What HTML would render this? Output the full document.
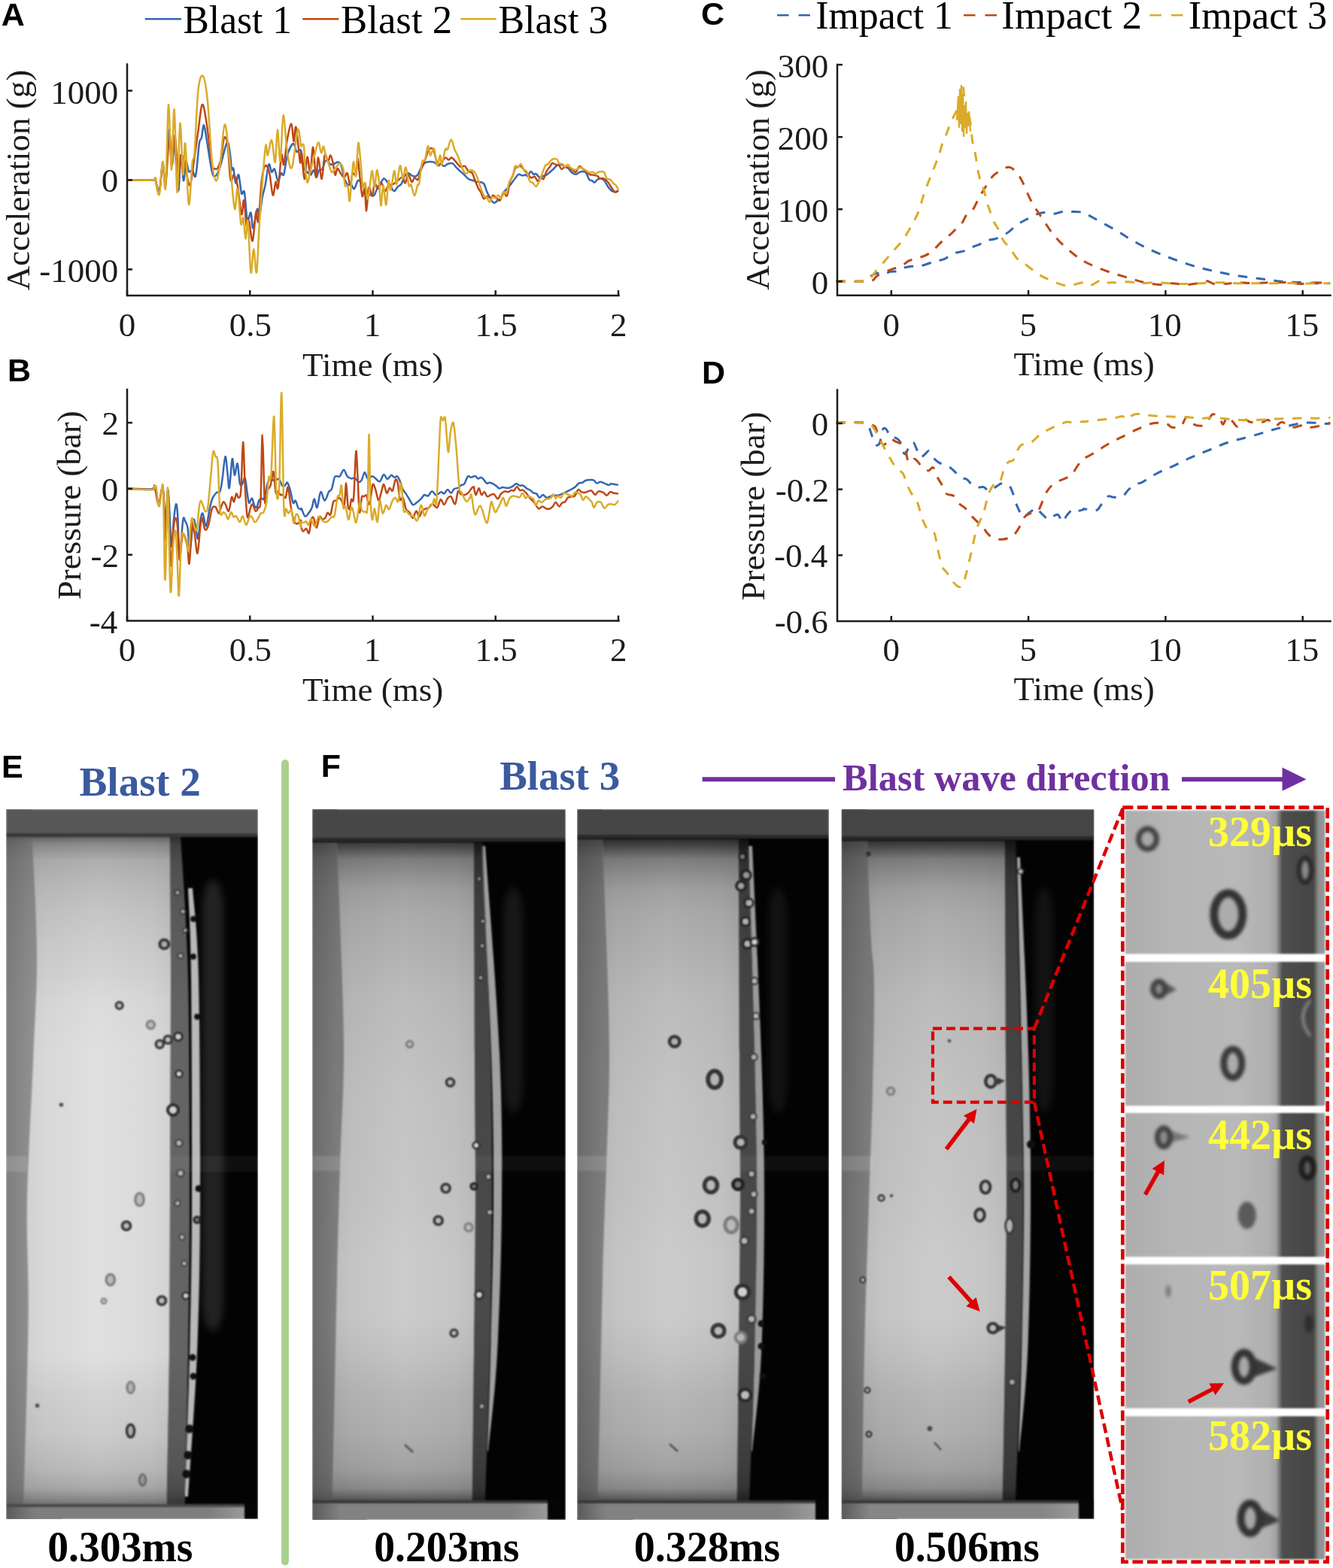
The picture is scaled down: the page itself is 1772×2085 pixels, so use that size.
<!DOCTYPE html><html><head><meta charset="utf-8"><title>Figure</title><style>html,body{margin:0;padding:0;background:#fff;width:1772px;height:2085px;overflow:hidden}svg{display:block}</style></head><body><svg width="1772" height="2085" viewBox="0 0 1772 2085"><rect width="1772" height="2085" fill="#fff"/><defs><filter color-interpolation-filters="sRGB" id="blur3" x="-5%" y="-5%" width="110%" height="110%"><feGaussianBlur stdDeviation="2.2"/></filter><linearGradient id="inbg" gradientUnits="userSpaceOnUse" x1="1495" y1="0" x2="1762" y2="0"><stop offset="0" stop-color="#adadad"/><stop offset="0.25" stop-color="#b6b6b6"/><stop offset="0.55" stop-color="#b9b9b9"/><stop offset="0.72" stop-color="#b0b0b0"/><stop offset="0.755" stop-color="#a2a2a2"/><stop offset="0.785" stop-color="#4e4e4e"/><stop offset="0.94" stop-color="#454545"/><stop offset="0.965" stop-color="#8e8e8e"/><stop offset="1" stop-color="#9a9a9a"/></linearGradient></defs><defs><filter color-interpolation-filters="sRGB" id="blur1" x="-2%" y="-2%" width="104%" height="104%"><feGaussianBlur stdDeviation="1.3"/></filter><filter color-interpolation-filters="sRGB" id="blur4" x="-50%" y="-10%" width="200%" height="120%"><feGaussianBlur stdDeviation="5"/></filter><clipPath id="clipE"><rect x="8" y="1076" width="335" height="944"/></clipPath><linearGradient gradientUnits="userSpaceOnUse" id="lgE" x1="31" y1="0" x2="227" y2="0"><stop offset="0" stop-color="#d0d0d0"/><stop offset="0.15" stop-color="#d8d8d8"/><stop offset="0.5" stop-color="#e0e0e0"/><stop offset="0.85" stop-color="#dadada"/><stop offset="1" stop-color="#d2d2d2"/></linearGradient><linearGradient gradientUnits="userSpaceOnUse" id="lsE" x1="8" y1="0" x2="43" y2="0"><stop offset="0" stop-color="#7e7e7e"/><stop offset="1" stop-color="#909090"/></linearGradient><linearGradient id="shE" gradientUnits="userSpaceOnUse" x1="0" y1="1076" x2="0" y2="2020"><stop offset="0.0000" stop-color="#000" stop-opacity="0.55"/><stop offset="0.0392" stop-color="#000" stop-opacity="0.55"/><stop offset="0.0487" stop-color="#000" stop-opacity="0.38"/><stop offset="0.0720" stop-color="#000" stop-opacity="0.22"/><stop offset="0.1081" stop-color="#000" stop-opacity="0.16"/><stop offset="0.1430" stop-color="#000" stop-opacity="0.12"/><stop offset="0.1896" stop-color="#000" stop-opacity="0.08"/><stop offset="0.2362" stop-color="#000" stop-opacity="0.05"/><stop offset="0.2691" stop-color="#000" stop-opacity="0.02"/><stop offset="0.3432" stop-color="#000" stop-opacity="0"/><stop offset="0.7669" stop-color="#000" stop-opacity="0"/><stop offset="0.8242" stop-color="#000" stop-opacity="0.055"/><stop offset="0.8814" stop-color="#000" stop-opacity="0.09"/><stop offset="0.9280" stop-color="#000" stop-opacity="0.155"/><stop offset="0.9566" stop-color="#000" stop-opacity="0.24"/><stop offset="0.9714" stop-color="#000" stop-opacity="0.38"/><stop offset="0.9809" stop-color="#000" stop-opacity="0.5"/><stop offset="1.0000" stop-color="#000" stop-opacity="0.5"/></linearGradient><filter color-interpolation-filters="sRGB" id="cfE" filterUnits="userSpaceOnUse" x="229" y="1110" width="108" height="720"><feGaussianBlur stdDeviation="5"/></filter><linearGradient id="bbE" gradientUnits="userSpaceOnUse" x1="8" y1="0" x2="325" y2="0"><stop offset="0" stop-color="#5a5a5a"/><stop offset="0.12" stop-color="#7e7e7e"/><stop offset="0.85" stop-color="#7e7e7e"/><stop offset="1" stop-color="#9a9a9a"/></linearGradient><clipPath id="clipF1"><rect x="415" y="1076" width="337" height="945"/></clipPath><linearGradient gradientUnits="userSpaceOnUse" id="lgF1" x1="441" y1="0" x2="632" y2="0"><stop offset="0" stop-color="#bcbcbc"/><stop offset="0.15" stop-color="#c4c4c4"/><stop offset="0.5" stop-color="#cccccc"/><stop offset="0.85" stop-color="#c6c6c6"/><stop offset="1" stop-color="#bebebe"/></linearGradient><linearGradient gradientUnits="userSpaceOnUse" id="lsF1" x1="415" y1="0" x2="448" y2="0"><stop offset="0" stop-color="#6c6c6c"/><stop offset="1" stop-color="#7e7e7e"/></linearGradient><linearGradient id="shF1" gradientUnits="userSpaceOnUse" x1="0" y1="1076" x2="0" y2="2021"><stop offset="0.0000" stop-color="#000" stop-opacity="0.75"/><stop offset="0.0444" stop-color="#000" stop-opacity="0.75"/><stop offset="0.0529" stop-color="#000" stop-opacity="0.63"/><stop offset="0.0698" stop-color="#000" stop-opacity="0.39"/><stop offset="0.0921" stop-color="#000" stop-opacity="0.29"/><stop offset="0.1143" stop-color="#000" stop-opacity="0.21"/><stop offset="0.1481" stop-color="#000" stop-opacity="0.16"/><stop offset="0.2042" stop-color="#000" stop-opacity="0.12"/><stop offset="0.2603" stop-color="#000" stop-opacity="0.08"/><stop offset="0.3958" stop-color="#000" stop-opacity="0.04"/><stop offset="0.5545" stop-color="#000" stop-opacity="0.02"/><stop offset="0.6339" stop-color="#000" stop-opacity="0"/><stop offset="0.7132" stop-color="#000" stop-opacity="0"/><stop offset="0.7661" stop-color="#000" stop-opacity="0.04"/><stop offset="0.8233" stop-color="#000" stop-opacity="0.1"/><stop offset="0.8804" stop-color="#000" stop-opacity="0.14"/><stop offset="0.9270" stop-color="#000" stop-opacity="0.2"/><stop offset="0.9556" stop-color="#000" stop-opacity="0.31"/><stop offset="0.9672" stop-color="#000" stop-opacity="0.49"/><stop offset="0.9735" stop-color="#000" stop-opacity="0.6"/><stop offset="1.0000" stop-color="#000" stop-opacity="0.6"/></linearGradient><filter color-interpolation-filters="sRGB" id="cfF1" filterUnits="userSpaceOnUse" x="629" y="1120" width="106" height="420"><feGaussianBlur stdDeviation="5"/></filter><linearGradient id="bbF1" gradientUnits="userSpaceOnUse" x1="415" y1="0" x2="728" y2="0"><stop offset="0" stop-color="#5a5a5a"/><stop offset="0.12" stop-color="#828282"/><stop offset="0.85" stop-color="#828282"/><stop offset="1" stop-color="#9a9a9a"/></linearGradient><clipPath id="clipF2"><rect x="767" y="1076" width="335" height="945"/></clipPath><linearGradient gradientUnits="userSpaceOnUse" id="lgF2" x1="794" y1="0" x2="984" y2="0"><stop offset="0" stop-color="#bcbcbc"/><stop offset="0.15" stop-color="#c4c4c4"/><stop offset="0.5" stop-color="#cccccc"/><stop offset="0.85" stop-color="#c6c6c6"/><stop offset="1" stop-color="#bebebe"/></linearGradient><linearGradient gradientUnits="userSpaceOnUse" id="lsF2" x1="767" y1="0" x2="801" y2="0"><stop offset="0" stop-color="#6c6c6c"/><stop offset="1" stop-color="#7e7e7e"/></linearGradient><linearGradient id="shF2" gradientUnits="userSpaceOnUse" x1="0" y1="1076" x2="0" y2="2021"><stop offset="0.0000" stop-color="#000" stop-opacity="0.75"/><stop offset="0.0444" stop-color="#000" stop-opacity="0.75"/><stop offset="0.0529" stop-color="#000" stop-opacity="0.63"/><stop offset="0.0698" stop-color="#000" stop-opacity="0.39"/><stop offset="0.0921" stop-color="#000" stop-opacity="0.29"/><stop offset="0.1143" stop-color="#000" stop-opacity="0.21"/><stop offset="0.1481" stop-color="#000" stop-opacity="0.16"/><stop offset="0.2042" stop-color="#000" stop-opacity="0.12"/><stop offset="0.2603" stop-color="#000" stop-opacity="0.08"/><stop offset="0.3958" stop-color="#000" stop-opacity="0.04"/><stop offset="0.5545" stop-color="#000" stop-opacity="0.02"/><stop offset="0.6339" stop-color="#000" stop-opacity="0"/><stop offset="0.7132" stop-color="#000" stop-opacity="0"/><stop offset="0.7661" stop-color="#000" stop-opacity="0.04"/><stop offset="0.8233" stop-color="#000" stop-opacity="0.1"/><stop offset="0.8804" stop-color="#000" stop-opacity="0.14"/><stop offset="0.9270" stop-color="#000" stop-opacity="0.2"/><stop offset="0.9556" stop-color="#000" stop-opacity="0.31"/><stop offset="0.9672" stop-color="#000" stop-opacity="0.49"/><stop offset="0.9735" stop-color="#000" stop-opacity="0.6"/><stop offset="1.0000" stop-color="#000" stop-opacity="0.6"/></linearGradient><filter color-interpolation-filters="sRGB" id="cfF2" filterUnits="userSpaceOnUse" x="982" y="1120" width="104" height="420"><feGaussianBlur stdDeviation="5"/></filter><linearGradient id="bbF2" gradientUnits="userSpaceOnUse" x1="767" y1="0" x2="1084" y2="0"><stop offset="0" stop-color="#5a5a5a"/><stop offset="0.12" stop-color="#828282"/><stop offset="0.85" stop-color="#828282"/><stop offset="1" stop-color="#9a9a9a"/></linearGradient><clipPath id="clipF3"><rect x="1118.5" y="1076" width="336" height="944"/></clipPath><linearGradient gradientUnits="userSpaceOnUse" id="lgF3" x1="1146" y1="0" x2="1338" y2="0"><stop offset="0" stop-color="#bcbcbc"/><stop offset="0.15" stop-color="#c4c4c4"/><stop offset="0.5" stop-color="#cccccc"/><stop offset="0.85" stop-color="#c6c6c6"/><stop offset="1" stop-color="#bebebe"/></linearGradient><linearGradient gradientUnits="userSpaceOnUse" id="lsF3" x1="1118.5" y1="0" x2="1153" y2="0"><stop offset="0" stop-color="#6c6c6c"/><stop offset="1" stop-color="#7e7e7e"/></linearGradient><linearGradient id="shF3" gradientUnits="userSpaceOnUse" x1="0" y1="1076" x2="0" y2="2020"><stop offset="0.0000" stop-color="#000" stop-opacity="0.75"/><stop offset="0.0445" stop-color="#000" stop-opacity="0.75"/><stop offset="0.0530" stop-color="#000" stop-opacity="0.63"/><stop offset="0.0699" stop-color="#000" stop-opacity="0.39"/><stop offset="0.0922" stop-color="#000" stop-opacity="0.29"/><stop offset="0.1144" stop-color="#000" stop-opacity="0.21"/><stop offset="0.1483" stop-color="#000" stop-opacity="0.16"/><stop offset="0.2044" stop-color="#000" stop-opacity="0.12"/><stop offset="0.2606" stop-color="#000" stop-opacity="0.08"/><stop offset="0.3962" stop-color="#000" stop-opacity="0.04"/><stop offset="0.5551" stop-color="#000" stop-opacity="0.02"/><stop offset="0.6345" stop-color="#000" stop-opacity="0"/><stop offset="0.7140" stop-color="#000" stop-opacity="0"/><stop offset="0.7669" stop-color="#000" stop-opacity="0.04"/><stop offset="0.8242" stop-color="#000" stop-opacity="0.1"/><stop offset="0.8814" stop-color="#000" stop-opacity="0.14"/><stop offset="0.9280" stop-color="#000" stop-opacity="0.2"/><stop offset="0.9566" stop-color="#000" stop-opacity="0.31"/><stop offset="0.9682" stop-color="#000" stop-opacity="0.49"/><stop offset="0.9746" stop-color="#000" stop-opacity="0.6"/><stop offset="1.0011" stop-color="#000" stop-opacity="0.6"/></linearGradient><filter color-interpolation-filters="sRGB" id="cfF3" filterUnits="userSpaceOnUse" x="1336" y="1120" width="104" height="420"><feGaussianBlur stdDeviation="5"/></filter><linearGradient id="bbF3" gradientUnits="userSpaceOnUse" x1="1118.5" y1="0" x2="1434" y2="0"><stop offset="0" stop-color="#5a5a5a"/><stop offset="0.12" stop-color="#868686"/><stop offset="0.85" stop-color="#868686"/><stop offset="1" stop-color="#9a9a9a"/></linearGradient></defs><g clip-path="url(#clipE)"><g filter="url(#blur1)"><rect x="8" y="1076" width="335" height="944" fill="#030303"/><rect x="8" y="1113" width="75" height="944" fill="url(#lsE)"/><rect x="269" y="1170" width="28" height="600" rx="14" ry="40" fill="#262626" opacity="0.9" filter="url(#cfE)"/><path d="M226.0,1113.0 C226.2,1144.2 227.0,1218.8 227.0,1300.0 C227.0,1381.2 226.3,1516.7 226.0,1600.0 C225.7,1683.3 225.7,1734.7 225.0,1800.0 C224.3,1865.3 222.5,1958.3 222.0,1992.0 C221.5,2025.7 222.0,2000.3 222.0,2002.0 L246.0,2002.0 C246.0,2000.3 245.3,2025.7 246.0,1992.0 C246.7,1958.3 249.0,1865.3 250.0,1800.0 C251.0,1734.7 252.0,1683.3 252.0,1600.0 C252.0,1516.7 252.0,1381.2 250.0,1300.0 C248.0,1218.8 241.7,1144.2 240.0,1113.0 Z" fill="#646464"/><path d="M250.0,1181.0 C250.7,1200.8 253.2,1230.2 254.0,1300.0 C254.8,1369.8 255.3,1516.7 255.0,1600.0 C254.7,1683.3 253.5,1735.0 252.0,1800.0 C250.5,1865.0 247.0,1958.3 246.0,1990.0 L250.0,1990.0 C252.0,1958.3 259.3,1865.0 262.0,1800.0 C264.7,1735.0 265.7,1683.3 266.0,1600.0 C266.3,1516.7 265.7,1369.8 264.0,1300.0 C262.3,1230.2 257.3,1200.8 256.0,1181.0 Z" fill="#b8b8b8"/><path d="M43.0,1113.0 C44.0,1138.8 48.7,1220.2 49.0,1268.0 C49.3,1315.8 46.8,1345.0 44.6,1400.0 C42.4,1455.0 37.1,1539.7 36.0,1598.0 C34.9,1656.3 38.4,1684.3 37.7,1750.0 C37.0,1815.7 32.8,1950.0 31.7,1992.0 C30.6,2034.0 31.1,2000.3 31.0,2002.0 L222.0,2002.0 C222.0,2000.3 221.5,2025.7 222.0,1992.0 C222.5,1958.3 224.3,1865.3 225.0,1800.0 C225.7,1734.7 225.7,1683.3 226.0,1600.0 C226.3,1516.7 227.0,1381.2 227.0,1300.0 C227.0,1218.8 226.2,1144.2 226.0,1113.0 Z" fill="url(#lgE)"/><rect x="8" y="1537" width="28" height="21" fill="#fff" opacity="0.13"/><rect x="226" y="1537" width="117" height="21" fill="#fff" opacity="0.052000000000000005"/><ellipse cx="218.3" cy="1255.5" rx="5.9" ry="5.9" fill="#bcbcbc" stroke="#363636" stroke-width="3.9"/><ellipse cx="158.7" cy="1337" rx="4.6" ry="4.6" fill="#bcbcbc" stroke="#363636" stroke-width="3.0"/><ellipse cx="200.4" cy="1362.7" rx="5.2" ry="5.2" fill="#bcbcbc" stroke="#7e7e7e" stroke-width="3.0"/><ellipse cx="212.3" cy="1388.5" rx="5.1" ry="5.1" fill="#bcbcbc" stroke="#363636" stroke-width="3.3"/><ellipse cx="223.2" cy="1382.5" rx="5.1" ry="5.1" fill="#bcbcbc" stroke="#363636" stroke-width="3.3"/><ellipse cx="237" cy="1378.5" rx="5.2" ry="5.2" fill="#d0d0d0" stroke="#2e2e2e" stroke-width="3.0"/><ellipse cx="236" cy="1187" rx="3.6" ry="3.6" fill="#b4b4b4" stroke="#3a3a3a" stroke-width="1.8"/><ellipse cx="243" cy="1212" rx="3.6" ry="3.6" fill="#b4b4b4" stroke="#3a3a3a" stroke-width="1.8"/><ellipse cx="246" cy="1237" rx="3.1" ry="3.1" fill="#b4b4b4" stroke="#3a3a3a" stroke-width="1.6"/><ellipse cx="240" cy="1271" rx="3.6" ry="3.6" fill="#b4b4b4" stroke="#3a3a3a" stroke-width="1.8"/><ellipse cx="257" cy="1222" rx="3.0" ry="3.0" fill="#101010" stroke="#101010" stroke-width="1.8"/><ellipse cx="257" cy="1272" rx="3.0" ry="3.0" fill="#101010" stroke="#101010" stroke-width="1.8"/><ellipse cx="262" cy="1352" rx="3.0" ry="3.0" fill="#101010" stroke="#101010" stroke-width="1.8"/><ellipse cx="230" cy="1476" rx="7.0" ry="7.0" fill="#d0d0d0" stroke="#2e2e2e" stroke-width="4.0"/><ellipse cx="238" cy="1428" rx="4.4" ry="4.4" fill="#d0d0d0" stroke="#2e2e2e" stroke-width="2.5"/><ellipse cx="185.5" cy="1595" rx="5.7" ry="8.5" fill="#bcbcbc" stroke="#7e7e7e" stroke-width="3.2"/><ellipse cx="168" cy="1630" rx="5.5" ry="5.5" fill="#bcbcbc" stroke="#363636" stroke-width="3.6"/><ellipse cx="146.8" cy="1701.6" rx="5.7" ry="7.3" fill="#bcbcbc" stroke="#7e7e7e" stroke-width="3.2"/><ellipse cx="138" cy="1730" rx="3.5" ry="3.5" fill="#bcbcbc" stroke="#7e7e7e" stroke-width="2.0"/><ellipse cx="215" cy="1729.5" rx="5.5" ry="5.5" fill="#bcbcbc" stroke="#363636" stroke-width="3.6"/><ellipse cx="264" cy="1580.5" rx="3.5" ry="3.5" fill="#101010" stroke="#101010" stroke-width="2.0"/><ellipse cx="262" cy="1622" rx="4.1" ry="4.1" fill="#7a7a7a" stroke="#222222" stroke-width="3.0"/><ellipse cx="247" cy="1723" rx="4.4" ry="4.4" fill="#d0d0d0" stroke="#2e2e2e" stroke-width="2.5"/><ellipse cx="173.6" cy="1845" rx="4.8" ry="7.6" fill="#bcbcbc" stroke="#7e7e7e" stroke-width="2.8"/><ellipse cx="173.6" cy="1902.6" rx="5.1" ry="8.4" fill="#bcbcbc" stroke="#363636" stroke-width="3.3"/><ellipse cx="189.5" cy="1968" rx="4.4" ry="7.7" fill="#bcbcbc" stroke="#7e7e7e" stroke-width="2.5"/><ellipse cx="81.5" cy="1469" rx="2.1" ry="2.1" fill="#505050" stroke="#505050" stroke-width="1.4"/><ellipse cx="49.6" cy="1869" rx="2.1" ry="2.1" fill="#505050" stroke="#505050" stroke-width="1.4"/><ellipse cx="238" cy="1520" rx="4.5" ry="4.5" fill="#b4b4b4" stroke="#3a3a3a" stroke-width="2.2"/><ellipse cx="240" cy="1560" rx="4.5" ry="4.5" fill="#b4b4b4" stroke="#3a3a3a" stroke-width="2.2"/><ellipse cx="236" cy="1600" rx="3.6" ry="3.6" fill="#b4b4b4" stroke="#3a3a3a" stroke-width="1.8"/><ellipse cx="242" cy="1645" rx="3.6" ry="3.6" fill="#b4b4b4" stroke="#3a3a3a" stroke-width="1.8"/><ellipse cx="245" cy="1680" rx="3.6" ry="3.6" fill="#b4b4b4" stroke="#3a3a3a" stroke-width="1.8"/><ellipse cx="256" cy="1805" rx="3.5" ry="3.5" fill="#101010" stroke="#101010" stroke-width="2.0"/><ellipse cx="257" cy="1830" rx="3.5" ry="3.5" fill="#101010" stroke="#101010" stroke-width="2.0"/><ellipse cx="252" cy="1900" rx="4.4" ry="4.4" fill="#101010" stroke="#101010" stroke-width="2.5"/><ellipse cx="250" cy="1935" rx="4.4" ry="4.4" fill="#101010" stroke="#101010" stroke-width="2.5"/><ellipse cx="248" cy="1960" rx="4.4" ry="4.4" fill="#101010" stroke="#101010" stroke-width="2.5"/><path d="M43.0,1113.0 C44.0,1138.8 48.7,1220.2 49.0,1268.0 C49.3,1315.8 46.8,1345.0 44.6,1400.0 C42.4,1455.0 37.1,1539.7 36.0,1598.0 C34.9,1656.3 38.4,1684.3 37.7,1750.0 C37.0,1815.7 32.8,1950.0 31.7,1992.0 C30.6,2034.0 31.1,2000.3 31.0,2002.0 L246.0,2002.0 C246.0,2000.3 245.3,2025.7 246.0,1992.0 C246.7,1958.3 249.0,1865.3 250.0,1800.0 C251.0,1734.7 252.0,1683.3 252.0,1600.0 C252.0,1516.7 252.0,1381.2 250.0,1300.0 C248.0,1218.8 241.7,1144.2 240.0,1113.0 Z" fill="url(#shE)"/><path d="M8.0,1053.0 C8.0,1063.0 8.0,1077.2 8.0,1113.0 C8.0,1148.8 8.0,1220.2 8.0,1268.0 C8.0,1315.8 8.0,1345.0 8.0,1400.0 C8.0,1455.0 8.0,1539.7 8.0,1598.0 C8.0,1656.3 8.0,1684.3 8.0,1750.0 C8.0,1815.7 8.0,1950.0 8.0,1992.0 C8.0,2034.0 8.0,1997.3 8.0,2002.0 C8.0,2006.7 8.0,2017.0 8.0,2020.0 L31.0,2020.0 C31.0,2017.0 30.9,2006.7 31.0,2002.0 C31.1,1997.3 30.6,2034.0 31.7,1992.0 C32.8,1950.0 37.0,1815.7 37.7,1750.0 C38.4,1684.3 34.9,1656.3 36.0,1598.0 C37.1,1539.7 42.4,1455.0 44.6,1400.0 C46.8,1345.0 49.3,1315.8 49.0,1268.0 C48.7,1220.2 44.0,1148.8 43.0,1113.0 C42.0,1077.2 43.0,1063.0 43.0,1053.0 Z" fill="url(#shE)" opacity="0.55"/><rect x="8" y="1076" width="335" height="33" fill="#585858"/><rect x="8" y="1108" width="335" height="5" fill="#383838"/><rect x="8" y="2002" width="335" height="18" fill="url(#bbE)"/><rect x="8" y="2000" width="335" height="4" fill="#484848"/><rect x="325" y="2000" width="18" height="20" fill="#050505"/></g></g><g clip-path="url(#clipF1)"><g filter="url(#blur1)"><rect x="415" y="1076" width="337" height="945" fill="#030303"/><rect x="415" y="1120" width="73" height="945" fill="url(#lsF1)"/><rect x="669" y="1180" width="26" height="300" rx="13" ry="40" fill="#1c1c1c" opacity="0.8" filter="url(#cfF1)"/><path d="M630.0,1120.0 C630.2,1166.7 630.7,1320.0 631.0,1400.0 C631.3,1480.0 632.2,1533.3 632.0,1600.0 C631.8,1666.7 630.7,1733.7 630.0,1800.0 C629.3,1866.3 628.3,1965.0 628.0,1998.0 L645.0,1998.0 C646.0,1965.0 649.5,1866.3 651.0,1800.0 C652.5,1733.7 653.8,1666.7 654.0,1600.0 C654.2,1533.3 654.0,1480.0 652.0,1400.0 C650.0,1320.0 643.7,1166.7 642.0,1120.0 Z" fill="#4a4a4a"/><path d="M640.0,1125.0 C642.2,1170.8 650.3,1320.8 653.0,1400.0 C655.7,1479.2 656.2,1533.3 656.0,1600.0 C655.8,1666.7 653.3,1745.0 652.0,1800.0 C650.7,1855.0 648.7,1908.3 648.0,1930.0 L649.0,1930.0 C651.0,1908.3 658.0,1855.0 661.0,1800.0 C664.0,1745.0 666.5,1666.7 667.0,1600.0 C667.5,1533.3 667.7,1479.2 664.0,1400.0 C660.3,1320.8 648.2,1170.8 645.0,1125.0 Z" fill="#a0a0a0"/><path d="M448.0,1120.0 C448.8,1141.7 451.5,1202.5 453.0,1250.0 C454.5,1297.5 457.2,1355.0 457.0,1405.0 C456.8,1455.0 453.5,1500.5 452.0,1550.0 C450.5,1599.5 449.7,1629.0 448.0,1702.0 C446.3,1775.0 443.2,1938.7 442.0,1988.0 C440.8,2037.3 441.2,1996.3 441.0,1998.0 L628.0,1998.0 C628.3,1965.0 629.3,1866.3 630.0,1800.0 C630.7,1733.7 631.8,1666.7 632.0,1600.0 C632.2,1533.3 631.3,1480.0 631.0,1400.0 C630.7,1320.0 630.2,1166.7 630.0,1120.0 Z" fill="url(#lgF1)"/><rect x="415" y="1537" width="37" height="20" fill="#fff" opacity="0.12"/><rect x="632" y="1537" width="120" height="20" fill="#fff" opacity="0.048"/><path d="M538,1921 L549,1931" stroke="#606060" stroke-width="2.5"/><ellipse cx="544.7" cy="1388.4" rx="4.4" ry="4.4" fill="#bcbcbc" stroke="#7e7e7e" stroke-width="2.5"/><ellipse cx="598.5" cy="1439.3" rx="5.1" ry="5.1" fill="#bcbcbc" stroke="#363636" stroke-width="3.3"/><ellipse cx="633" cy="1523" rx="4.4" ry="4.4" fill="#d0d0d0" stroke="#2e2e2e" stroke-width="2.5"/><ellipse cx="592.6" cy="1580" rx="5.5" ry="5.5" fill="#bcbcbc" stroke="#363636" stroke-width="3.6"/><ellipse cx="630" cy="1577.5" rx="4.1" ry="4.1" fill="#7a7a7a" stroke="#222222" stroke-width="3.0"/><ellipse cx="582.7" cy="1623" rx="5.5" ry="5.5" fill="#bcbcbc" stroke="#363636" stroke-width="3.6"/><ellipse cx="623" cy="1632" rx="5.2" ry="5.2" fill="#bcbcbc" stroke="#7e7e7e" stroke-width="3.0"/><ellipse cx="637" cy="1721.7" rx="5.2" ry="5.2" fill="#d0d0d0" stroke="#2e2e2e" stroke-width="3.0"/><ellipse cx="603.5" cy="1772.6" rx="4.6" ry="4.6" fill="#bcbcbc" stroke="#363636" stroke-width="3.0"/><ellipse cx="649.4" cy="1564.7" rx="3.6" ry="3.6" fill="#b4b4b4" stroke="#3a3a3a" stroke-width="1.8"/><ellipse cx="651" cy="1612" rx="3.6" ry="3.6" fill="#b4b4b4" stroke="#3a3a3a" stroke-width="1.8"/><ellipse cx="640.5" cy="1870" rx="3.6" ry="3.6" fill="#b4b4b4" stroke="#3a3a3a" stroke-width="1.8"/><ellipse cx="637" cy="1168.6" rx="3.1" ry="3.1" fill="#b4b4b4" stroke="#3a3a3a" stroke-width="1.6"/><ellipse cx="642" cy="1225" rx="3.1" ry="3.1" fill="#b4b4b4" stroke="#3a3a3a" stroke-width="1.6"/><ellipse cx="641" cy="1257.5" rx="3.1" ry="3.1" fill="#b4b4b4" stroke="#3a3a3a" stroke-width="1.6"/><ellipse cx="639" cy="1300" rx="3.1" ry="3.1" fill="#b4b4b4" stroke="#3a3a3a" stroke-width="1.6"/><path d="M448.0,1120.0 C448.8,1141.7 451.5,1202.5 453.0,1250.0 C454.5,1297.5 457.2,1355.0 457.0,1405.0 C456.8,1455.0 453.5,1500.5 452.0,1550.0 C450.5,1599.5 449.7,1629.0 448.0,1702.0 C446.3,1775.0 443.2,1938.7 442.0,1988.0 C440.8,2037.3 441.2,1996.3 441.0,1998.0 L645.0,1998.0 C646.0,1965.0 649.5,1866.3 651.0,1800.0 C652.5,1733.7 653.8,1666.7 654.0,1600.0 C654.2,1533.3 654.0,1480.0 652.0,1400.0 C650.0,1320.0 643.7,1166.7 642.0,1120.0 Z" fill="url(#shF1)"/><path d="M415.0,1060.0 C415.0,1070.0 415.0,1088.3 415.0,1120.0 C415.0,1151.7 415.0,1202.5 415.0,1250.0 C415.0,1297.5 415.0,1355.0 415.0,1405.0 C415.0,1455.0 415.0,1500.5 415.0,1550.0 C415.0,1599.5 415.0,1629.0 415.0,1702.0 C415.0,1775.0 415.0,1938.7 415.0,1988.0 C415.0,2037.3 415.0,1992.5 415.0,1998.0 C415.0,2003.5 415.0,2017.2 415.0,2021.0 L441.0,2021.0 C441.0,2017.2 440.8,2003.5 441.0,1998.0 C441.2,1992.5 440.8,2037.3 442.0,1988.0 C443.2,1938.7 446.3,1775.0 448.0,1702.0 C449.7,1629.0 450.5,1599.5 452.0,1550.0 C453.5,1500.5 456.8,1455.0 457.0,1405.0 C457.2,1355.0 454.5,1297.5 453.0,1250.0 C451.5,1202.5 448.8,1151.7 448.0,1120.0 C447.2,1088.3 448.0,1070.0 448.0,1060.0 Z" fill="url(#shF1)" opacity="0.55"/><rect x="415" y="1076" width="337" height="39" fill="#474747"/><rect x="415" y="1114" width="337" height="5" fill="#2a2a2a"/><rect x="415" y="1997" width="337" height="24" fill="url(#bbF1)"/><rect x="415" y="1995" width="337" height="4" fill="#383838"/><rect x="728" y="1995" width="24" height="26" fill="#050505"/></g></g><g clip-path="url(#clipF2)"><g filter="url(#blur1)"><rect x="767" y="1076" width="335" height="945" fill="#030303"/><rect x="767" y="1116" width="74" height="945" fill="url(#lsF2)"/><rect x="1022" y="1180" width="24" height="300" rx="12" ry="40" fill="#1a1a1a" opacity="0.7" filter="url(#cfF2)"/><path d="M982.0,1116.0 C982.2,1163.3 982.7,1319.3 983.0,1400.0 C983.3,1480.7 984.2,1533.3 984.0,1600.0 C983.8,1666.7 982.7,1733.7 982.0,1800.0 C981.3,1866.3 980.3,1965.0 980.0,1998.0 L996.0,1998.0 C997.2,1965.0 1001.3,1866.3 1003.0,1800.0 C1004.7,1733.7 1006.0,1666.7 1006.0,1600.0 C1006.0,1533.3 1004.8,1480.7 1003.0,1400.0 C1001.2,1319.3 996.3,1163.3 995.0,1116.0 Z" fill="#4a4a4a"/><path d="M995.0,1125.0 C996.3,1170.8 1001.2,1320.8 1003.0,1400.0 C1004.8,1479.2 1006.0,1533.3 1006.0,1600.0 C1006.0,1666.7 1004.2,1745.0 1003.0,1800.0 C1001.8,1855.0 999.7,1908.3 999.0,1930.0 L1000.0,1930.0 C1002.0,1908.3 1009.3,1855.0 1012.0,1800.0 C1014.7,1745.0 1016.0,1666.7 1016.0,1600.0 C1016.0,1533.3 1014.7,1479.2 1012.0,1400.0 C1009.3,1320.8 1002.0,1170.8 1000.0,1125.0 Z" fill="#9a9a9a"/><path d="M801.0,1116.0 C801.8,1138.3 804.5,1201.8 806.0,1250.0 C807.5,1298.2 810.0,1355.0 810.0,1405.0 C810.0,1455.0 807.5,1500.5 806.0,1550.0 C804.5,1599.5 802.8,1629.0 801.0,1702.0 C799.2,1775.0 796.2,1938.7 795.0,1988.0 C793.8,2037.3 794.2,1996.3 794.0,1998.0 L980.0,1998.0 C980.3,1965.0 981.3,1866.3 982.0,1800.0 C982.7,1733.7 983.8,1666.7 984.0,1600.0 C984.2,1533.3 983.3,1480.7 983.0,1400.0 C982.7,1319.3 982.2,1163.3 982.0,1116.0 Z" fill="url(#lgF2)"/><rect x="767" y="1537" width="39" height="20" fill="#fff" opacity="0.12"/><rect x="984" y="1537" width="118" height="20" fill="#fff" opacity="0.048"/><path d="M890,1920 L901,1930" stroke="#606060" stroke-width="2.5"/><ellipse cx="896.7" cy="1385" rx="6.8" ry="6.8" fill="#bcbcbc" stroke="#363636" stroke-width="4.4"/><ellipse cx="950" cy="1435.3" rx="8.9" ry="11.1" fill="#bcbcbc" stroke="#363636" stroke-width="5.8"/><ellipse cx="984.6" cy="1519" rx="7.6" ry="7.6" fill="#bcbcbc" stroke="#363636" stroke-width="5.0"/><ellipse cx="945" cy="1576" rx="8.5" ry="9.6" fill="#bcbcbc" stroke="#363636" stroke-width="5.5"/><ellipse cx="981" cy="1575" rx="6.6" ry="6.6" fill="#7a7a7a" stroke="#222222" stroke-width="4.8"/><ellipse cx="933.7" cy="1620.5" rx="8.5" ry="9.6" fill="#bcbcbc" stroke="#363636" stroke-width="5.5"/><ellipse cx="972" cy="1629" rx="8.3" ry="9.9" fill="#bcbcbc" stroke="#7e7e7e" stroke-width="4.8"/><ellipse cx="987" cy="1718" rx="8.7" ry="8.7" fill="#d0d0d0" stroke="#2e2e2e" stroke-width="5.0"/><ellipse cx="955" cy="1769.6" rx="8.0" ry="8.0" fill="#bcbcbc" stroke="#363636" stroke-width="5.2"/><ellipse cx="984.6" cy="1778.5" rx="7.0" ry="7.0" fill="#bcbcbc" stroke="#7e7e7e" stroke-width="4.0"/><ellipse cx="990.5" cy="1855" rx="7.8" ry="7.8" fill="#d0d0d0" stroke="#2e2e2e" stroke-width="4.5"/><ellipse cx="987" cy="1139" rx="4.4" ry="4.4" fill="#d0d0d0" stroke="#2e2e2e" stroke-width="2.5"/><ellipse cx="992" cy="1163.7" rx="6.1" ry="6.1" fill="#d0d0d0" stroke="#2e2e2e" stroke-width="3.5"/><ellipse cx="985" cy="1178" rx="6.1" ry="6.1" fill="#d0d0d0" stroke="#2e2e2e" stroke-width="3.5"/><ellipse cx="995.4" cy="1200.7" rx="5.7" ry="5.7" fill="#d0d0d0" stroke="#2e2e2e" stroke-width="3.2"/><ellipse cx="991" cy="1225.4" rx="5.7" ry="5.7" fill="#d0d0d0" stroke="#2e2e2e" stroke-width="3.2"/><ellipse cx="993.5" cy="1255" rx="6.1" ry="6.1" fill="#d0d0d0" stroke="#2e2e2e" stroke-width="3.5"/><ellipse cx="1003" cy="1252.6" rx="5.2" ry="5.2" fill="#d0d0d0" stroke="#2e2e2e" stroke-width="3.0"/><ellipse cx="1003" cy="1304.4" rx="4.5" ry="4.5" fill="#b4b4b4" stroke="#3a3a3a" stroke-width="2.2"/><ellipse cx="1005" cy="1351" rx="4.5" ry="4.5" fill="#b4b4b4" stroke="#3a3a3a" stroke-width="2.2"/><ellipse cx="1002" cy="1405.7" rx="4.5" ry="4.5" fill="#b4b4b4" stroke="#3a3a3a" stroke-width="2.2"/><ellipse cx="1001" cy="1484.7" rx="4.5" ry="4.5" fill="#b4b4b4" stroke="#3a3a3a" stroke-width="2.2"/><ellipse cx="999" cy="1561" rx="4.5" ry="4.5" fill="#b4b4b4" stroke="#3a3a3a" stroke-width="2.2"/><ellipse cx="1002" cy="1588" rx="4.5" ry="4.5" fill="#b4b4b4" stroke="#3a3a3a" stroke-width="2.2"/><ellipse cx="999" cy="1610.6" rx="4.5" ry="4.5" fill="#b4b4b4" stroke="#3a3a3a" stroke-width="2.2"/><ellipse cx="989.5" cy="1650" rx="5.4" ry="5.4" fill="#b4b4b4" stroke="#3a3a3a" stroke-width="2.7"/><ellipse cx="999" cy="1754" rx="5.4" ry="5.4" fill="#b4b4b4" stroke="#3a3a3a" stroke-width="2.7"/><ellipse cx="1016.7" cy="1519" rx="3.0" ry="3.0" fill="#101010" stroke="#101010" stroke-width="1.8"/><ellipse cx="1012" cy="1760" rx="3.5" ry="3.5" fill="#101010" stroke="#101010" stroke-width="2.0"/><ellipse cx="1012" cy="1790" rx="3.5" ry="3.5" fill="#101010" stroke="#101010" stroke-width="2.0"/><ellipse cx="1014" cy="1830" rx="3.5" ry="3.5" fill="#101010" stroke="#101010" stroke-width="2.0"/><path d="M801.0,1116.0 C801.8,1138.3 804.5,1201.8 806.0,1250.0 C807.5,1298.2 810.0,1355.0 810.0,1405.0 C810.0,1455.0 807.5,1500.5 806.0,1550.0 C804.5,1599.5 802.8,1629.0 801.0,1702.0 C799.2,1775.0 796.2,1938.7 795.0,1988.0 C793.8,2037.3 794.2,1996.3 794.0,1998.0 L996.0,1998.0 C997.2,1965.0 1001.3,1866.3 1003.0,1800.0 C1004.7,1733.7 1006.0,1666.7 1006.0,1600.0 C1006.0,1533.3 1004.8,1480.7 1003.0,1400.0 C1001.2,1319.3 996.3,1163.3 995.0,1116.0 Z" fill="url(#shF2)"/><path d="M767.0,1056.0 C767.0,1066.0 767.0,1083.7 767.0,1116.0 C767.0,1148.3 767.0,1201.8 767.0,1250.0 C767.0,1298.2 767.0,1355.0 767.0,1405.0 C767.0,1455.0 767.0,1500.5 767.0,1550.0 C767.0,1599.5 767.0,1629.0 767.0,1702.0 C767.0,1775.0 767.0,1938.7 767.0,1988.0 C767.0,2037.3 767.0,1992.5 767.0,1998.0 C767.0,2003.5 767.0,2017.2 767.0,2021.0 L794.0,2021.0 C794.0,2017.2 793.8,2003.5 794.0,1998.0 C794.2,1992.5 793.8,2037.3 795.0,1988.0 C796.2,1938.7 799.2,1775.0 801.0,1702.0 C802.8,1629.0 804.5,1599.5 806.0,1550.0 C807.5,1500.5 810.0,1455.0 810.0,1405.0 C810.0,1355.0 807.5,1298.2 806.0,1250.0 C804.5,1201.8 801.8,1148.3 801.0,1116.0 C800.2,1083.7 801.0,1066.0 801.0,1056.0 Z" fill="url(#shF2)" opacity="0.55"/><rect x="767" y="1076" width="335" height="35" fill="#464646"/><rect x="767" y="1110" width="335" height="5" fill="#2a2a2a"/><rect x="767" y="1997" width="335" height="24" fill="url(#bbF2)"/><rect x="767" y="1995" width="335" height="4" fill="#383838"/><rect x="1084" y="1995" width="18" height="26" fill="#050505"/></g></g><g clip-path="url(#clipF3)"><g filter="url(#blur1)"><rect x="1118.5" y="1076" width="336" height="944" fill="#030303"/><rect x="1118.5" y="1118" width="74.5" height="944" fill="url(#lsF3)"/><rect x="1376" y="1180" width="24" height="300" rx="12" ry="40" fill="#1a1a1a" opacity="0.7" filter="url(#cfF3)"/><path d="M1336.0,1118.0 C1336.2,1165.0 1336.7,1319.7 1337.0,1400.0 C1337.3,1480.3 1338.2,1533.3 1338.0,1600.0 C1337.8,1666.7 1336.8,1734.2 1336.0,1800.0 C1335.2,1865.8 1333.5,1962.5 1333.0,1995.0 L1350.0,1995.0 C1351.2,1962.5 1355.3,1865.8 1357.0,1800.0 C1358.7,1734.2 1360.0,1666.7 1360.0,1600.0 C1360.0,1533.3 1358.7,1480.3 1357.0,1400.0 C1355.3,1319.7 1351.2,1165.0 1350.0,1118.0 Z" fill="#484848"/><path d="M1352.0,1140.0 C1353.0,1183.3 1356.5,1323.3 1358.0,1400.0 C1359.5,1476.7 1361.0,1533.3 1361.0,1600.0 C1361.0,1666.7 1359.2,1745.0 1358.0,1800.0 C1356.8,1855.0 1354.7,1908.3 1354.0,1930.0 L1355.0,1930.0 C1356.8,1908.3 1363.5,1855.0 1366.0,1800.0 C1368.5,1745.0 1369.8,1666.7 1370.0,1600.0 C1370.2,1533.3 1369.3,1476.7 1367.0,1400.0 C1364.7,1323.3 1357.8,1183.3 1356.0,1140.0 Z" fill="#a4a4a4"/><path d="M1153.0,1118.0 C1153.8,1140.0 1156.5,1218.3 1158.0,1250.0 C1159.5,1281.7 1161.7,1274.7 1162.0,1308.0 C1162.3,1341.3 1161.2,1401.3 1160.0,1450.0 C1158.8,1498.7 1156.8,1541.7 1155.0,1600.0 C1153.2,1658.3 1150.5,1734.2 1149.0,1800.0 C1147.5,1865.8 1146.5,1962.5 1146.0,1995.0 L1333.0,1995.0 C1333.5,1962.5 1335.2,1865.8 1336.0,1800.0 C1336.8,1734.2 1337.8,1666.7 1338.0,1600.0 C1338.2,1533.3 1337.3,1480.3 1337.0,1400.0 C1336.7,1319.7 1336.2,1165.0 1336.0,1118.0 Z" fill="url(#lgF3)"/><rect x="1118.5" y="1537" width="41.5" height="20" fill="#fff" opacity="0.12"/><rect x="1338" y="1537" width="116.5" height="20" fill="#fff" opacity="0.048"/><path d="M1326,1433 L1336,1437 L1326,1443 Z" fill="#3c3c3c"/><path d="M1327,1762 L1338,1765 L1327,1771 Z" fill="#3c3c3c"/><path d="M1242,1918 L1251,1928" stroke="#606060" stroke-width="2.5"/><ellipse cx="1154" cy="1135.5" rx="2.6" ry="2.6" fill="#505050" stroke="#505050" stroke-width="1.5"/><ellipse cx="1184" cy="1451" rx="4.8" ry="4.8" fill="#bcbcbc" stroke="#7e7e7e" stroke-width="2.8"/><ellipse cx="1317" cy="1437.8" rx="6.8" ry="7.9" fill="#bcbcbc" stroke="#363636" stroke-width="4.4"/><ellipse cx="1171.6" cy="1593" rx="3.8" ry="3.8" fill="#bcbcbc" stroke="#363636" stroke-width="2.5"/><ellipse cx="1310" cy="1578.5" rx="6.3" ry="8.0" fill="#bcbcbc" stroke="#363636" stroke-width="4.1"/><ellipse cx="1302.5" cy="1615.6" rx="6.3" ry="8.0" fill="#bcbcbc" stroke="#363636" stroke-width="4.1"/><ellipse cx="1350" cy="1576" rx="5.7" ry="8.0" fill="#7a7a7a" stroke="#222222" stroke-width="4.2"/><ellipse cx="1342" cy="1630" rx="5.4" ry="9.9" fill="#b4b4b4" stroke="#3a3a3a" stroke-width="2.7"/><ellipse cx="1147" cy="1702" rx="3.4" ry="3.4" fill="#bcbcbc" stroke="#363636" stroke-width="2.2"/><ellipse cx="1319.8" cy="1766" rx="6.3" ry="6.3" fill="#bcbcbc" stroke="#363636" stroke-width="4.1"/><ellipse cx="1153" cy="1848.6" rx="3.4" ry="3.4" fill="#bcbcbc" stroke="#363636" stroke-width="2.2"/><ellipse cx="1155" cy="1907" rx="3.4" ry="3.4" fill="#bcbcbc" stroke="#363636" stroke-width="2.2"/><ellipse cx="1236" cy="1899.5" rx="2.6" ry="2.6" fill="#505050" stroke="#505050" stroke-width="1.5"/><ellipse cx="1370.6" cy="1521.7" rx="4.4" ry="4.4" fill="#101010" stroke="#101010" stroke-width="2.5"/><ellipse cx="1345.4" cy="1837.8" rx="4.5" ry="4.5" fill="#b4b4b4" stroke="#3a3a3a" stroke-width="2.2"/><ellipse cx="1356.8" cy="1158.8" rx="3.6" ry="3.6" fill="#b4b4b4" stroke="#3a3a3a" stroke-width="1.8"/><ellipse cx="1262" cy="1384" rx="1.5" ry="1.5" fill="#505050" stroke="#505050" stroke-width="1.4"/><ellipse cx="1185" cy="1590" rx="1.5" ry="1.5" fill="#505050" stroke="#505050" stroke-width="1.4"/><path d="M1153.0,1118.0 C1153.8,1140.0 1156.5,1218.3 1158.0,1250.0 C1159.5,1281.7 1161.7,1274.7 1162.0,1308.0 C1162.3,1341.3 1161.2,1401.3 1160.0,1450.0 C1158.8,1498.7 1156.8,1541.7 1155.0,1600.0 C1153.2,1658.3 1150.5,1734.2 1149.0,1800.0 C1147.5,1865.8 1146.5,1962.5 1146.0,1995.0 L1350.0,1995.0 C1351.2,1962.5 1355.3,1865.8 1357.0,1800.0 C1358.7,1734.2 1360.0,1666.7 1360.0,1600.0 C1360.0,1533.3 1358.7,1480.3 1357.0,1400.0 C1355.3,1319.7 1351.2,1165.0 1350.0,1118.0 Z" fill="url(#shF3)"/><path d="M1118.5,1058.0 C1118.5,1068.0 1118.5,1086.0 1118.5,1118.0 C1118.5,1150.0 1118.5,1218.3 1118.5,1250.0 C1118.5,1281.7 1118.5,1274.7 1118.5,1308.0 C1118.5,1341.3 1118.5,1401.3 1118.5,1450.0 C1118.5,1498.7 1118.5,1541.7 1118.5,1600.0 C1118.5,1658.3 1118.5,1734.2 1118.5,1800.0 C1118.5,1865.8 1118.5,1958.3 1118.5,1995.0 C1118.5,2031.7 1118.5,2015.8 1118.5,2020.0 L1146.0,2020.0 C1146.0,2015.8 1145.5,2031.7 1146.0,1995.0 C1146.5,1958.3 1147.5,1865.8 1149.0,1800.0 C1150.5,1734.2 1153.2,1658.3 1155.0,1600.0 C1156.8,1541.7 1158.8,1498.7 1160.0,1450.0 C1161.2,1401.3 1162.3,1341.3 1162.0,1308.0 C1161.7,1274.7 1159.5,1281.7 1158.0,1250.0 C1156.5,1218.3 1153.8,1150.0 1153.0,1118.0 C1152.2,1086.0 1153.0,1068.0 1153.0,1058.0 Z" fill="url(#shF3)" opacity="0.55"/><rect x="1118.5" y="1076" width="336" height="37" fill="#454545"/><rect x="1118.5" y="1112" width="336" height="5" fill="#282828"/><rect x="1118.5" y="1997" width="336" height="23" fill="url(#bbF3)"/><rect x="1118.5" y="1995" width="336" height="4" fill="#383838"/><rect x="1434" y="1995" width="20.5" height="25" fill="#050505"/></g></g><path d="M168.48,239.54 C174.39,239.54 197.64,239.79 203.93,239.54 C210.22,239.28 204.96,235.56 206.24,238.00 C207.53,240.44 209.97,257.39 211.64,254.18 C213.31,250.97 214.85,220.53 216.26,218.73 C217.68,216.93 218.70,251.10 220.12,243.39 C221.53,235.68 223.33,176.60 224.74,172.49 C226.15,168.38 227.44,215.65 228.59,218.73 C229.75,221.81 230.26,185.20 231.68,190.98 C233.09,196.76 235.66,250.84 237.07,253.41 C238.48,255.98 239.00,208.58 240.15,206.40 C241.31,204.21 242.85,239.02 244.01,240.31 C245.16,241.59 245.93,216.16 247.09,214.10 C248.25,212.05 249.53,225.92 250.94,227.98 C252.36,230.03 254.03,225.54 255.57,226.44 C257.11,227.33 258.65,239.28 260.19,233.37 C261.73,227.46 263.53,199.33 264.82,190.98 C266.10,182.63 266.87,187.39 267.90,183.28 C268.93,179.17 269.83,165.81 270.98,166.32 C272.14,166.83 273.04,176.08 274.84,186.36 C276.63,196.63 279.85,220.01 281.77,227.98 C283.70,235.94 284.60,235.17 286.40,234.14 C288.20,233.11 289.99,229.26 292.56,221.81 C295.13,214.36 299.63,192.52 301.81,189.44 C303.99,186.36 304.64,197.41 305.66,203.31 C306.69,209.22 307.21,221.43 307.98,224.89 C308.75,228.36 309.39,221.04 310.29,224.12 C311.19,227.21 312.22,241.98 313.37,243.39 C314.53,244.80 315.94,230.29 317.23,232.60 C318.51,234.91 319.79,253.41 321.08,257.26 C322.36,261.12 323.65,249.81 324.93,255.72 C326.22,261.63 327.37,288.22 328.79,292.72 C330.20,297.21 332.13,280.90 333.41,282.70 C334.69,284.50 335.08,304.28 336.49,303.51 C337.91,302.74 340.48,280.90 341.89,278.07 C343.30,275.25 343.82,289.25 344.97,286.55 C346.13,283.85 347.54,268.70 348.82,261.89 C350.11,255.08 351.27,252.90 352.68,245.70 C354.09,238.51 355.89,221.55 357.30,218.73 C358.72,215.90 359.87,227.72 361.16,228.75 C362.44,229.78 363.60,222.84 365.01,224.89 C366.42,226.95 368.22,240.18 369.63,241.08 C371.05,241.98 372.20,231.83 373.49,230.29 C374.77,228.75 375.93,235.81 377.34,231.83 C378.75,227.85 379.91,213.20 381.97,206.40 C384.02,199.59 387.62,191.75 389.67,190.98 C391.73,190.21 392.58,200.23 394.30,201.77 C396.02,203.31 398.40,196.63 400.00,200.23 C401.60,203.83 402.46,218.60 403.87,223.35 C405.29,228.11 406.96,227.21 408.50,228.75 C410.04,230.29 411.71,232.99 413.12,232.60 C414.53,232.22 415.69,225.92 416.97,226.44 C418.26,226.95 419.67,235.68 420.83,235.68 C421.98,235.68 422.63,228.23 423.91,226.44 C425.20,224.64 427.25,226.69 428.54,224.89 C429.82,223.10 430.59,217.57 431.62,215.65 C432.65,213.72 433.42,212.82 434.70,213.33 C435.99,213.85 437.53,218.09 439.33,218.73 C441.12,219.37 443.95,217.70 445.49,217.19 C447.03,216.67 447.29,215.39 448.57,215.65 C449.86,215.90 451.66,215.13 453.20,218.73 C454.74,222.32 456.28,232.73 457.82,237.23 C459.36,241.72 460.91,244.29 462.45,245.70 C463.99,247.12 465.66,244.80 467.07,245.70 C468.48,246.60 469.51,252.00 470.92,251.10 C472.34,250.20 474.14,241.85 475.55,240.31 C476.96,238.77 477.99,240.82 479.40,241.85 C480.82,242.88 482.49,244.03 484.03,246.47 C485.57,248.91 486.85,254.18 488.65,256.49 C490.45,258.81 493.28,259.96 494.82,260.35 C496.36,260.73 496.62,260.86 497.90,258.81 C499.18,256.75 500.98,250.84 502.52,248.02 C504.07,245.19 505.86,243.65 507.15,241.85 C508.43,240.05 508.95,237.23 510.23,237.23 C511.52,237.23 513.31,240.05 514.86,241.85 C516.40,243.65 517.94,245.96 519.48,248.02 C521.02,250.07 522.56,254.18 524.10,254.18 C525.65,254.18 527.19,249.56 528.73,248.02 C530.27,246.47 531.81,247.24 533.35,244.93 C534.89,242.62 536.44,236.58 537.98,234.14 C539.52,231.70 540.80,230.29 542.60,230.29 C544.40,230.29 546.97,233.50 548.77,234.14 C550.57,234.78 552.11,234.78 553.39,234.14 C554.68,233.50 555.19,232.60 556.47,230.29 C557.76,227.98 559.30,222.71 561.10,220.27 C562.90,217.83 564.69,216.42 567.26,215.65 C569.83,214.87 573.94,214.87 576.51,215.65 C579.08,216.42 581.14,219.88 582.68,220.27 C584.22,220.66 584.48,217.83 585.76,217.96 C587.05,218.09 588.84,221.04 590.39,221.04 C591.93,221.04 593.21,218.60 595.01,217.96 C596.81,217.32 599.38,216.54 601.18,217.19 C602.97,217.83 604.26,220.27 605.80,221.81 C607.34,223.35 608.63,224.77 610.42,226.44 C612.22,228.11 614.53,229.90 616.59,231.83 C618.64,233.76 620.52,236.58 622.76,238.00 C624.99,239.41 628.40,239.67 630.00,240.31 C631.60,240.95 631.17,241.59 632.33,241.85 C633.49,242.11 635.16,241.46 636.96,241.85 C638.75,242.24 641.45,242.11 643.12,244.16 C644.79,246.22 645.69,251.23 646.97,254.18 C648.26,257.14 649.29,259.32 650.83,261.89 C652.37,264.46 654.43,268.82 656.22,269.60 C658.02,270.37 659.95,267.67 661.62,266.51 C663.29,265.36 664.70,264.71 666.24,262.66 C667.78,260.60 669.33,256.36 670.87,254.18 C672.41,252.00 673.95,251.36 675.49,249.56 C677.03,247.76 678.57,245.45 680.12,243.39 C681.66,241.34 683.20,239.15 684.74,237.23 C686.28,235.30 687.82,232.47 689.36,231.83 C690.91,231.19 692.45,233.24 693.99,233.37 C695.53,233.50 697.33,232.47 698.61,232.60 C699.90,232.73 700.54,234.91 701.70,234.14 C702.85,233.37 704.26,228.36 705.55,227.98 C706.83,227.59 708.25,231.32 709.40,231.83 C710.56,232.34 711.20,230.42 712.49,231.06 C713.77,231.70 715.57,235.17 717.11,235.68 C718.65,236.20 720.19,234.66 721.73,234.14 C723.28,233.63 724.82,233.50 726.36,232.60 C727.90,231.70 729.44,230.03 730.98,228.75 C732.52,227.46 734.07,226.31 735.61,224.89 C737.15,223.48 738.43,221.30 740.23,220.27 C742.03,219.24 744.60,218.47 746.40,218.73 C748.20,218.99 749.48,220.91 751.02,221.81 C752.56,222.71 754.10,222.84 755.65,224.12 C757.19,225.41 758.60,228.23 760.27,229.52 C761.94,230.80 764.12,231.83 765.66,231.83 C767.21,231.83 768.11,230.16 769.52,229.52 C770.93,228.88 772.60,227.98 774.14,227.98 C775.68,227.98 777.23,227.72 778.77,229.52 C780.31,231.32 781.98,236.97 783.39,238.77 C784.80,240.57 786.09,239.67 787.24,240.31 C788.40,240.95 789.17,242.88 790.33,242.62 C791.48,242.36 792.77,239.67 794.18,238.77 C795.59,237.87 797.26,236.97 798.81,237.23 C800.35,237.48 801.89,238.51 803.43,240.31 C804.97,242.11 806.51,245.83 808.05,248.02 C809.60,250.20 811.14,252.25 812.68,253.41 C814.22,254.57 815.71,254.95 817.30,254.95 C818.90,254.95 821.41,253.67 822.24,253.41" fill="none" stroke="#3466b2" stroke-width="2.5" stroke-linejoin="round"/><path d="M168.48,239.54 C174.39,239.54 197.64,239.87 203.93,239.54 C210.22,239.20 204.96,234.58 206.24,237.53 C207.53,240.49 209.97,260.66 211.64,257.26 C213.31,253.87 214.85,218.99 216.26,217.19 C217.68,215.39 218.70,251.87 220.12,246.47 C221.53,241.08 223.33,189.18 224.74,184.82 C226.15,180.45 227.31,221.04 228.59,220.27 C229.88,219.50 231.03,177.88 232.45,180.19 C233.86,182.50 235.66,229.78 237.07,234.14 C238.48,238.51 239.51,208.97 240.92,206.40 C242.34,203.83 243.62,212.05 245.55,218.73 C247.48,225.41 250.30,248.27 252.49,246.47 C254.67,244.68 256.85,219.76 258.65,207.94 C260.45,196.12 261.61,187.00 263.28,175.57 C264.95,164.14 266.87,141.91 268.67,139.34 C270.47,136.78 271.88,146.92 274.07,160.15 C276.25,173.38 279.85,208.07 281.77,218.73 C283.70,229.39 284.34,223.35 285.63,224.12 C286.91,224.89 288.07,225.79 289.48,223.35 C290.89,220.91 292.69,216.16 294.10,209.48 C295.52,202.80 296.54,186.10 297.96,183.28 C299.37,180.45 301.17,183.28 302.58,192.52 C303.99,201.77 305.02,232.09 306.44,238.77 C307.85,245.45 309.52,231.32 311.06,232.60 C312.60,233.89 314.01,237.74 315.68,246.47 C317.35,255.21 319.67,281.67 321.08,285.01 C322.49,288.35 323.01,263.69 324.16,266.51 C325.32,269.34 326.86,297.34 328.02,301.97 C329.17,306.59 329.81,291.18 331.10,294.26 C332.38,297.34 334.18,322.52 335.72,320.46 C337.26,318.41 339.06,286.29 340.35,281.93 C341.63,277.56 342.15,301.45 343.43,294.26 C344.71,287.06 346.51,251.10 348.05,238.77 C349.60,226.44 351.01,221.81 352.68,220.27 C354.35,218.73 356.40,222.97 358.07,229.52 C359.74,236.07 361.28,257.52 362.70,259.58 C364.11,261.63 365.39,243.52 366.55,241.85 C367.71,240.18 368.35,255.47 369.63,249.56 C370.92,243.65 372.97,211.54 374.26,206.40 C375.54,201.26 376.06,222.32 377.34,218.73 C378.63,215.13 380.30,193.81 381.97,184.82 C383.64,175.83 385.95,164.26 387.36,164.78 C388.77,165.29 389.42,187.13 390.44,187.90 C391.47,188.67 392.11,164.78 393.53,169.40 C394.94,174.03 397.71,209.99 398.92,215.65 C400.13,221.30 399.84,199.59 400.79,203.31 C401.74,207.04 403.36,237.10 404.64,238.00 C405.93,238.90 407.21,210.12 408.50,208.71 C409.78,207.30 411.07,231.70 412.35,229.52 C413.64,227.33 414.92,194.58 416.20,195.61 C417.49,196.63 418.90,233.37 420.06,235.68 C421.21,238.00 421.86,209.09 423.14,209.48 C424.43,209.87 426.35,238.51 427.76,238.00 C429.18,237.48 430.21,210.38 431.62,206.40 C433.03,202.41 434.96,214.10 436.24,214.10 C437.53,214.10 438.30,206.14 439.33,206.40 C440.35,206.65 441.38,211.28 442.41,215.65 C443.44,220.01 444.46,231.19 445.49,232.60 C446.52,234.01 447.29,224.38 448.57,224.12 C449.86,223.87 451.66,229.13 453.20,231.06 C454.74,232.99 456.41,235.81 457.82,235.68 C459.24,235.56 460.39,228.49 461.68,230.29 C462.96,232.09 464.37,246.35 465.53,246.47 C466.69,246.60 467.33,233.50 468.61,231.06 C469.90,228.62 472.08,235.17 473.24,231.83 C474.39,228.49 474.65,209.99 475.55,211.02 C476.45,212.05 477.60,229.65 478.63,238.00 C479.66,246.35 480.69,258.93 481.71,261.12 C482.74,263.30 483.90,247.89 484.80,251.10 C485.70,254.31 486.21,280.64 487.11,280.39 C488.01,280.13 488.91,252.90 490.19,249.56 C491.48,246.22 493.53,261.37 494.82,260.35 C496.10,259.32 496.62,244.93 497.90,243.39 C499.18,241.85 500.98,251.10 502.52,251.10 C504.07,251.10 505.61,242.88 507.15,243.39 C508.69,243.90 510.23,253.67 511.77,254.18 C513.31,254.69 514.60,248.02 516.40,246.47 C518.20,244.93 520.51,245.96 522.56,244.93 C524.62,243.90 526.67,241.85 528.73,240.31 C530.78,238.77 533.22,235.17 534.89,235.68 C536.56,236.20 537.46,244.16 538.75,243.39 C540.03,242.62 541.19,231.32 542.60,231.06 C544.01,230.80 545.81,240.95 547.23,241.85 C548.64,242.75 549.67,236.97 551.08,236.45 C552.49,235.94 554.29,240.44 555.70,238.77 C557.12,237.10 558.14,230.29 559.56,226.44 C560.97,222.58 562.64,219.76 564.18,215.65 C565.72,211.54 567.39,204.86 568.81,201.77 C570.22,198.69 571.37,197.41 572.66,197.15 C573.94,196.89 574.97,196.63 576.51,200.23 C578.05,203.83 580.11,216.16 581.91,218.73 C583.71,221.30 585.63,217.19 587.30,215.65 C588.97,214.10 590.39,209.99 591.93,209.48 C593.47,208.97 595.14,212.56 596.55,212.56 C597.96,212.56 598.86,209.09 600.40,209.48 C601.95,209.87 603.87,212.82 605.80,214.87 C607.73,216.93 609.91,220.78 611.97,221.81 C614.02,222.84 616.33,220.01 618.13,221.04 C619.93,222.07 621.21,226.56 622.76,227.98 C624.30,229.39 626.17,228.23 627.38,229.52 C628.59,230.80 629.17,233.63 630.00,235.68 C630.83,237.74 631.30,239.28 632.33,241.85 C633.36,244.42 635.03,248.79 636.18,251.10 C637.34,253.41 638.11,253.54 639.27,255.72 C640.42,257.91 641.71,263.30 643.12,264.20 C644.53,265.10 646.20,261.25 647.75,261.12 C649.29,260.99 651.09,263.69 652.37,263.43 C653.65,263.17 654.17,259.58 655.45,259.58 C656.74,259.58 658.54,262.27 660.08,263.43 C661.62,264.59 663.16,267.80 664.70,266.51 C666.24,265.23 667.78,256.75 669.33,255.72 C670.87,254.69 672.54,262.66 673.95,260.35 C675.36,258.03 676.52,246.35 677.80,241.85 C679.09,237.35 680.50,236.33 681.66,233.37 C682.81,230.42 683.58,226.05 684.74,224.12 C685.90,222.20 687.31,222.32 688.59,221.81 C689.88,221.30 691.03,220.27 692.45,221.04 C693.86,221.81 695.40,224.51 697.07,226.44 C698.74,228.36 700.92,230.93 702.47,232.60 C704.01,234.27 704.91,236.07 706.32,236.45 C707.73,236.84 709.53,234.14 710.94,234.91 C712.36,235.68 713.51,240.95 714.80,241.08 C716.08,241.21 717.37,236.20 718.65,235.68 C719.94,235.17 721.22,239.28 722.50,238.00 C723.79,236.71 724.95,230.67 726.36,227.98 C727.77,225.28 729.70,223.61 730.98,221.81 C732.27,220.01 732.78,217.70 734.07,217.19 C735.35,216.67 737.15,218.21 738.69,218.73 C740.23,219.24 742.03,219.24 743.31,220.27 C744.60,221.30 745.11,224.64 746.40,224.89 C747.68,225.15 749.61,222.20 751.02,221.81 C752.43,221.43 753.33,221.94 754.87,222.58 C756.42,223.22 758.47,224.64 760.27,225.66 C762.07,226.69 763.99,229.52 765.66,228.75 C767.33,227.98 768.88,221.81 770.29,221.04 C771.70,220.27 772.73,223.10 774.14,224.12 C775.56,225.15 777.23,225.92 778.77,227.21 C780.31,228.49 781.85,230.93 783.39,231.83 C784.93,232.73 786.22,232.22 788.02,232.60 C789.81,232.99 792.64,233.37 794.18,234.14 C795.72,234.91 795.98,236.71 797.26,237.23 C798.55,237.74 800.35,236.71 801.89,237.23 C803.43,237.74 804.97,238.77 806.51,240.31 C808.05,241.85 809.72,244.42 811.14,246.47 C812.55,248.53 813.83,251.10 814.99,252.64 C816.15,254.18 816.87,255.59 818.07,255.72 C819.28,255.85 821.54,253.80 822.24,253.41" fill="none" stroke="#be4815" stroke-width="2.5" stroke-linejoin="round"/><path d="M168.48,239.54 C174.39,239.54 197.64,239.92 203.93,239.54 C210.22,239.15 204.96,234.01 206.24,237.23 C207.53,240.44 209.97,262.53 211.64,258.81 C213.31,255.08 214.85,216.42 216.26,214.87 C217.68,213.33 218.83,262.15 220.12,249.56 C221.40,236.97 222.68,143.33 223.97,139.34 C225.25,135.36 226.54,224.64 227.82,225.66 C229.11,226.69 230.39,140.50 231.68,145.51 C232.96,150.52 234.25,252.64 235.53,255.72 C236.81,258.81 238.10,167.99 239.38,164.01 C240.67,160.03 242.08,227.33 243.24,231.83 C244.39,236.33 245.04,184.30 246.32,190.98 C247.60,197.66 249.40,267.54 250.94,271.91 C252.49,276.27 254.28,228.88 255.57,217.19 C256.85,205.50 257.37,217.70 258.65,201.77 C259.94,185.84 261.48,138.45 263.28,121.62 C265.07,104.79 267.39,99.27 269.44,100.81 C271.50,102.35 273.55,111.98 275.61,130.87 C277.66,149.75 279.85,195.86 281.77,214.10 C283.70,232.34 285.37,239.54 287.17,240.31 C288.97,241.08 290.64,231.19 292.56,218.73 C294.49,206.27 296.67,167.09 298.73,165.55 C300.78,164.01 302.71,190.85 304.89,209.48 C307.08,228.11 310.03,270.37 311.83,277.30 C313.63,284.24 314.27,247.76 315.68,251.10 C317.10,254.44 319.02,290.92 320.31,297.34 C321.59,303.76 322.36,286.29 323.39,289.63 C324.42,292.97 325.45,316.61 326.47,317.38 C327.50,318.15 328.40,286.81 329.56,294.26 C330.71,301.71 332.13,355.92 333.41,362.08 C334.69,368.25 335.98,331.25 337.26,331.25 C338.55,331.25 339.83,367.99 341.12,362.08 C342.40,356.17 343.04,323.29 344.97,295.80 C346.90,268.31 350.88,212.05 352.68,197.15 C354.48,182.25 354.35,208.20 355.76,206.40 C357.17,204.60 359.49,184.82 361.16,186.36 C362.83,187.90 364.50,217.96 365.78,215.65 C367.06,213.33 367.71,172.74 368.86,172.49 C370.02,172.23 371.43,217.32 372.72,214.10 C374.00,210.89 375.03,155.02 376.57,153.22 C378.11,151.42 380.04,191.75 381.97,203.31 C383.89,214.87 385.82,227.72 388.13,222.58 C390.44,217.44 393.86,177.24 395.84,172.49 C397.82,167.73 399.17,190.73 400.00,194.07 C400.83,197.41 400.14,192.52 400.79,192.52 C401.44,192.52 403.10,189.70 403.87,194.07 C404.64,198.43 404.64,210.64 405.41,218.73 C406.18,226.82 407.34,241.08 408.50,242.62 C409.65,244.16 410.81,233.76 412.35,227.98 C413.89,222.20 415.95,214.36 417.75,207.94 C419.54,201.52 421.60,190.21 423.14,189.44 C424.68,188.67 425.84,202.41 426.99,203.31 C428.15,204.21 429.05,194.07 430.08,194.84 C431.10,195.61 432.13,204.47 433.16,207.94 C434.19,211.41 434.96,212.18 436.24,215.65 C437.53,219.11 439.33,227.33 440.87,228.75 C442.41,230.16 443.69,226.05 445.49,224.12 C447.29,222.20 449.86,217.06 451.66,217.19 C453.46,217.32 455.13,220.01 456.28,224.89 C457.44,229.78 457.57,242.62 458.59,246.47 C459.62,250.33 461.42,244.55 462.45,248.02 C463.47,251.48 463.86,269.60 464.76,267.28 C465.66,264.97 466.94,242.88 467.84,234.14 C468.74,225.41 469.25,214.87 470.15,214.87 C471.05,214.87 472.21,238.25 473.24,234.14 C474.26,230.03 475.29,193.29 476.32,190.21 C477.35,187.13 478.38,205.75 479.40,215.65 C480.43,225.54 481.46,244.93 482.49,249.56 C483.51,254.18 484.54,240.82 485.57,243.39 C486.60,245.96 487.62,264.46 488.65,264.97 C489.68,265.48 490.71,252.77 491.73,246.47 C492.76,240.18 493.79,226.69 494.82,227.21 C495.84,227.72 496.87,249.69 497.90,249.56 C498.93,249.43 499.96,227.46 500.98,226.44 C502.01,225.41 503.17,235.56 504.07,243.39 C504.96,251.23 505.48,272.94 506.38,273.45 C507.28,273.96 508.30,246.60 509.46,246.47 C510.62,246.35 512.16,273.71 513.31,272.68 C514.47,271.65 515.37,243.65 516.40,240.31 C517.42,236.97 518.20,254.82 519.48,252.64 C520.76,250.46 522.82,228.49 524.10,227.21 C525.39,225.92 525.90,246.09 527.19,244.93 C528.47,243.78 530.40,221.55 531.81,220.27 C533.22,218.99 534.38,236.84 535.66,237.23 C536.95,237.61 538.23,221.04 539.52,222.58 C540.80,224.12 542.22,242.62 543.37,246.47 C544.53,250.33 545.17,243.39 546.45,245.70 C547.74,248.02 549.67,260.22 551.08,260.35 C552.49,260.48 553.90,249.30 554.93,246.47 C555.96,243.65 556.22,248.53 557.24,243.39 C558.27,238.25 559.81,220.78 561.10,215.65 C562.38,210.51 563.67,216.16 564.95,212.56 C566.24,208.97 567.65,195.09 568.81,194.07 C569.96,193.04 570.86,205.37 571.89,206.40 C572.92,207.42 574.07,201.52 574.97,200.23 C575.87,198.95 576.26,195.35 577.28,198.69 C578.31,202.03 579.85,218.99 581.14,220.27 C582.42,221.55 583.96,206.65 584.99,206.40 C586.02,206.14 586.15,220.01 587.30,218.73 C588.46,217.44 590.64,202.03 591.93,198.69 C593.21,195.35 593.73,200.87 595.01,198.69 C596.29,196.51 598.09,185.59 599.63,185.59 C601.18,185.59 602.72,194.96 604.26,198.69 C605.80,202.41 607.08,203.57 608.88,207.94 C610.68,212.31 613.25,221.04 615.05,224.89 C616.85,228.75 618.13,230.80 619.67,231.06 C621.21,231.32 622.58,226.95 624.30,226.44 C626.02,225.92 628.40,226.69 630.00,227.98 C631.60,229.26 632.71,231.57 633.87,234.14 C635.03,236.71 635.93,240.31 636.96,243.39 C637.98,246.47 638.88,249.69 640.04,252.64 C641.19,255.59 642.74,259.58 643.89,261.12 C645.05,262.66 645.82,260.60 646.97,261.89 C648.13,263.17 649.54,268.82 650.83,268.82 C652.11,268.82 653.40,262.79 654.68,261.89 C655.97,260.99 657.25,263.82 658.54,263.43 C659.82,263.04 661.10,259.45 662.39,259.58 C663.67,259.70 665.09,264.97 666.24,264.20 C667.40,263.43 668.17,256.11 669.33,254.95 C670.48,253.80 671.89,259.45 673.18,257.26 C674.46,255.08 675.62,245.70 677.03,241.85 C678.45,238.00 680.37,237.61 681.66,234.14 C682.94,230.67 683.58,222.97 684.74,221.04 C685.90,219.11 687.31,223.10 688.59,222.58 C689.88,222.07 691.16,217.44 692.45,217.96 C693.73,218.47 695.02,223.99 696.30,225.66 C697.59,227.33 698.87,225.54 700.15,227.98 C701.44,230.42 702.59,237.74 704.01,240.31 C705.42,242.88 707.22,242.11 708.63,243.39 C710.04,244.68 711.20,248.27 712.49,248.02 C713.77,247.76 715.05,244.42 716.34,241.85 C717.62,239.28 718.78,236.20 720.19,232.60 C721.61,229.00 723.40,222.71 724.82,220.27 C726.23,217.83 727.13,219.37 728.67,217.96 C730.21,216.54 732.14,212.82 734.07,211.79 C735.99,210.76 738.69,210.89 740.23,211.79 C741.77,212.69 742.03,216.16 743.31,217.19 C744.60,218.21 746.65,217.19 747.94,217.96 C749.22,218.73 749.87,221.68 751.02,221.81 C752.18,221.94 753.59,218.47 754.87,218.73 C756.16,218.99 757.19,222.20 758.73,223.35 C760.27,224.51 762.58,225.41 764.12,225.66 C765.66,225.92 766.82,225.41 767.98,224.89 C769.13,224.38 769.52,222.45 771.06,222.58 C772.60,222.71 775.17,224.51 777.23,225.66 C779.28,226.82 781.59,229.00 783.39,229.52 C785.19,230.03 786.60,228.49 788.02,228.75 C789.43,229.00 790.58,231.06 791.87,231.06 C793.15,231.06 793.92,229.13 795.72,228.75 C797.52,228.36 800.86,227.33 802.66,228.75 C804.46,230.16 805.10,235.56 806.51,237.23 C807.93,238.90 809.60,237.61 811.14,238.77 C812.68,239.92 814.48,242.88 815.76,244.16 C817.05,245.45 817.76,245.06 818.84,246.47 C819.92,247.89 821.67,251.61 822.24,252.64" fill="none" stroke="#daab2a" stroke-width="2.5" stroke-linejoin="round"/><path d="M168.48,649.50 C174.00,649.63 195.45,650.78 201.62,650.27 C207.78,649.76 203.93,642.95 205.47,646.42 C207.01,649.88 209.33,670.18 210.87,671.08 C212.41,671.98 213.69,654.89 214.72,651.81 C215.75,648.73 216.13,645.39 217.03,652.58 C217.93,659.78 219.04,695.10 220.12,694.97 C221.19,694.84 222.22,646.67 223.51,651.81 C224.79,656.95 226.59,719.12 227.82,725.80 C229.06,732.48 229.88,701.14 230.91,691.89 C231.93,682.64 233.09,671.08 233.99,670.31 C234.89,669.54 235.53,675.45 236.30,687.26 C237.07,699.08 237.46,740.44 238.61,741.21 C239.77,741.98 241.95,699.85 243.24,691.89 C244.52,683.92 245.29,691.89 246.32,693.43 C247.35,694.97 248.38,694.97 249.40,701.14 C250.43,707.30 251.20,731.97 252.49,730.42 C253.77,728.88 255.83,696.77 257.11,691.89 C258.39,687.01 259.17,697.03 260.19,701.14 C261.22,705.25 262.25,718.09 263.28,716.55 C264.30,715.01 265.33,697.54 266.36,691.89 C267.39,686.24 268.16,681.36 269.44,682.64 C270.73,683.92 272.52,700.62 274.07,699.60 C275.61,698.57 277.28,682.64 278.69,676.47 C280.10,670.31 281.00,666.20 282.54,662.60 C284.08,659.00 286.27,656.44 287.94,654.89 C289.61,653.35 291.28,656.44 292.56,653.35 C293.85,650.27 294.49,644.10 295.65,636.40 C296.80,628.69 298.34,608.14 299.50,607.11 C300.66,606.08 301.68,623.29 302.58,630.23 C303.48,637.17 303.87,652.07 304.89,648.73 C305.92,645.39 307.59,613.02 308.75,610.19 C309.90,607.37 310.67,630.75 311.83,631.77 C312.99,632.80 314.53,614.56 315.68,616.36 C316.84,618.16 317.74,637.94 318.77,642.56 C319.79,647.19 320.69,645.26 321.85,644.10 C323.01,642.95 324.55,633.57 325.70,635.63 C326.86,637.68 327.89,650.91 328.79,656.44 C329.69,661.96 330.07,667.74 331.10,668.77 C332.13,669.79 333.80,662.09 334.95,662.60 C336.11,663.11 337.01,669.79 338.03,671.85 C339.06,673.90 340.09,675.96 341.12,674.93 C342.15,673.90 343.17,667.74 344.20,665.68 C345.23,663.63 346.13,663.11 347.28,662.60 C348.44,662.09 349.72,665.94 351.14,662.60 C352.55,659.26 354.35,646.93 355.76,642.56 C357.17,638.20 358.33,637.04 359.61,636.40 C360.90,635.75 362.18,638.45 363.47,638.71 C364.75,638.97 366.04,638.20 367.32,637.94 C368.61,637.68 369.89,635.88 371.18,637.17 C372.46,638.45 373.74,644.23 375.03,645.65 C376.31,647.06 377.73,646.29 378.88,645.65 C380.04,645.00 380.81,640.76 381.97,641.79 C383.12,642.82 384.53,647.32 385.82,651.81 C387.10,656.31 388.52,666.45 389.67,668.77 C390.83,671.08 391.60,664.53 392.76,665.68 C393.91,666.84 395.40,673.78 396.61,675.70 C397.82,677.63 399.30,677.12 400.00,677.24 C400.70,677.37 399.89,674.93 400.79,676.47 C401.69,678.02 403.87,685.47 405.41,686.49 C406.96,687.52 408.50,684.57 410.04,682.64 C411.58,680.71 413.38,678.14 414.66,674.93 C415.95,671.72 416.59,663.37 417.75,663.37 C418.90,663.37 420.19,676.47 421.60,674.93 C423.01,673.39 424.55,655.66 426.22,654.12 C427.89,652.58 429.82,665.68 431.62,665.68 C433.42,665.68 435.47,656.69 437.01,654.12 C438.55,651.55 439.58,653.48 440.87,650.27 C442.15,647.06 443.56,637.68 444.72,634.86 C445.88,632.03 446.65,633.57 447.80,633.31 C448.96,633.06 450.12,634.73 451.66,633.31 C453.20,631.90 455.38,624.84 457.05,624.84 C458.72,624.84 460.01,631.39 461.68,633.31 C463.35,635.24 465.40,636.01 467.07,636.40 C468.74,636.78 470.03,634.86 471.70,635.63 C473.37,636.40 475.55,640.64 477.09,641.02 C478.63,641.41 479.66,640.12 480.94,637.94 C482.23,635.75 483.51,628.18 484.80,627.92 C486.08,627.66 486.98,635.50 488.65,636.40 C490.32,637.30 493.02,633.31 494.82,633.31 C496.62,633.31 497.77,635.24 499.44,636.40 C501.11,637.55 503.04,641.15 504.84,640.25 C506.63,639.35 508.56,631.52 510.23,631.00 C511.90,630.49 513.19,637.04 514.86,637.17 C516.53,637.30 518.71,632.16 520.25,631.77 C521.79,631.39 522.82,634.60 524.10,634.86 C525.39,635.11 526.80,632.80 527.96,633.31 C529.11,633.83 529.88,635.24 531.04,637.94 C532.20,640.64 533.48,646.42 534.89,649.50 C536.31,652.58 538.11,654.25 539.52,656.44 C540.93,658.62 541.83,660.16 543.37,662.60 C544.91,665.04 547.10,670.05 548.77,671.08 C550.44,672.11 551.59,670.05 553.39,668.77 C555.19,667.48 557.76,665.17 559.56,663.37 C561.36,661.57 562.64,658.62 564.18,657.98 C565.72,657.33 567.14,660.29 568.81,659.52 C570.48,658.75 572.53,653.61 574.20,653.35 C575.87,653.10 577.54,657.33 578.82,657.98 C580.11,658.62 580.62,657.85 581.91,657.21 C583.19,656.56 585.12,654.25 586.53,654.12 C587.94,653.99 588.97,656.95 590.39,656.44 C591.80,655.92 593.47,651.17 595.01,651.04 C596.55,650.91 598.22,655.79 599.63,655.66 C601.05,655.54 601.95,651.43 603.49,650.27 C605.03,649.11 607.21,649.63 608.88,648.73 C610.55,647.83 612.09,645.77 613.51,644.87 C614.92,643.98 615.95,645.26 617.36,643.33 C618.77,641.41 620.57,634.73 621.98,633.31 C623.40,631.90 624.50,634.86 625.84,634.86 C627.17,634.86 629.30,633.57 630.00,633.31 C630.70,633.06 629.63,633.31 630.02,633.31 C630.41,633.31 631.43,632.80 632.33,633.31 C633.23,633.83 634.13,636.14 635.41,636.40 C636.70,636.65 638.75,634.60 640.04,634.86 C641.32,635.11 641.97,636.65 643.12,637.94 C644.28,639.22 645.69,641.92 646.97,642.56 C648.26,643.20 649.42,641.66 650.83,641.79 C652.24,641.92 653.91,642.56 655.45,643.33 C656.99,644.10 658.66,645.39 660.08,646.42 C661.49,647.44 662.65,649.24 663.93,649.50 C665.22,649.76 666.37,648.09 667.78,647.96 C669.20,647.83 670.87,648.60 672.41,648.73 C673.95,648.86 675.49,649.11 677.03,648.73 C678.57,648.34 680.12,647.32 681.66,646.42 C683.20,645.52 684.74,643.46 686.28,643.33 C687.82,643.20 689.36,645.26 690.91,645.65 C692.45,646.03 693.99,645.00 695.53,645.65 C697.07,646.29 698.61,648.47 700.15,649.50 C701.70,650.53 703.24,650.78 704.78,651.81 C706.32,652.84 707.99,654.89 709.40,655.66 C710.82,656.44 711.97,655.41 713.26,656.44 C714.54,657.46 715.70,661.57 717.11,661.83 C718.52,662.09 720.19,657.98 721.73,657.98 C723.28,657.98 724.82,661.45 726.36,661.83 C727.90,662.22 729.44,660.80 730.98,660.29 C732.52,659.78 733.81,659.00 735.61,658.75 C737.41,658.49 739.72,659.13 741.77,658.75 C743.83,658.36 745.88,657.33 747.94,656.44 C749.99,655.54 752.05,654.38 754.10,653.35 C756.16,652.32 758.47,651.30 760.27,650.27 C762.07,649.24 763.35,648.47 764.89,647.19 C766.44,645.90 767.98,643.46 769.52,642.56 C771.06,641.66 772.60,642.43 774.14,641.79 C775.68,641.15 776.84,639.35 778.77,638.71 C780.69,638.07 783.90,637.94 785.70,637.94 C787.50,637.94 788.27,637.94 789.56,638.71 C790.84,639.48 792.00,642.23 793.41,642.56 C794.82,642.90 796.36,640.71 798.03,640.71 C799.70,640.71 801.63,641.87 803.43,642.56 C805.23,643.26 807.28,644.75 808.82,644.87 C810.37,645.00 811.27,643.46 812.68,643.33 C814.09,643.20 815.76,643.85 817.30,644.10 C818.84,644.36 821.16,644.75 821.93,644.87" fill="none" stroke="#3466b2" stroke-width="2.5" stroke-linejoin="round"/><path d="M168.48,649.50 C174.00,649.76 195.45,651.43 201.62,651.04 C207.78,650.66 203.93,643.72 205.47,647.19 C207.01,650.66 209.33,671.08 210.87,671.85 C212.41,672.62 213.69,654.89 214.72,651.81 C215.75,648.73 216.13,642.31 217.03,653.35 C217.93,664.40 219.09,717.58 220.12,718.09 C221.14,718.61 222.04,650.78 223.20,656.44 C224.35,662.09 225.82,744.30 227.05,752.00 C228.29,759.71 229.49,713.21 230.60,702.68 C231.70,692.15 232.73,688.55 233.68,688.81 C234.63,689.06 235.48,694.97 236.30,704.22 C237.12,713.47 237.59,743.01 238.61,744.30 C239.64,745.58 241.18,716.81 242.47,711.93 C243.75,707.05 245.16,712.18 246.32,715.01 C247.48,717.84 248.50,723.23 249.40,728.88 C250.30,734.53 250.69,754.06 251.71,748.92 C252.74,743.78 254.41,704.73 255.57,698.05 C256.72,691.37 257.50,702.55 258.65,708.84 C259.81,715.14 261.22,737.36 262.50,735.82 C263.79,734.28 265.33,707.43 266.36,699.60 C267.39,691.76 267.64,688.03 268.67,688.81 C269.70,689.58 271.11,702.68 272.52,704.22 C273.94,705.76 275.61,702.68 277.15,698.05 C278.69,693.43 280.23,680.46 281.77,676.47 C283.31,672.49 284.86,673.13 286.40,674.16 C287.94,675.19 289.74,682.77 291.02,682.64 C292.31,682.51 293.08,675.96 294.10,673.39 C295.13,670.82 296.16,667.48 297.19,667.23 C298.21,666.97 299.11,669.79 300.27,671.85 C301.43,673.90 302.84,681.36 304.12,679.56 C305.41,677.76 306.82,663.11 307.98,661.06 C309.13,659.00 310.03,668.00 311.06,667.23 C312.09,666.45 313.11,657.33 314.14,656.44 C315.17,655.54 316.20,662.60 317.23,661.83 C318.25,661.06 319.33,664.14 320.31,651.81 C321.28,639.48 322.18,588.87 323.08,587.84 C323.98,586.81 324.75,629.08 325.70,645.65 C326.65,662.22 327.63,682.13 328.79,687.26 C329.94,692.40 331.48,679.30 332.64,676.47 C333.80,673.65 334.57,669.79 335.72,670.31 C336.88,670.82 338.29,678.79 339.58,679.56 C340.86,680.33 342.27,677.50 343.43,674.93 C344.59,672.36 345.61,680.20 346.51,664.14 C347.41,648.09 347.93,578.34 348.82,578.59 C349.72,578.85 350.75,653.48 351.91,665.68 C353.06,677.89 354.48,655.15 355.76,651.81 C357.05,648.47 358.33,649.76 359.61,645.65 C360.90,641.54 362.31,625.61 363.47,627.15 C364.62,628.69 365.52,650.53 366.55,654.89 C367.58,659.26 368.61,652.84 369.63,653.35 C370.66,653.87 371.69,657.21 372.72,657.98 C373.74,658.75 374.64,657.33 375.80,657.98 C376.96,658.62 378.50,663.50 379.65,661.83 C380.81,660.16 381.58,646.03 382.74,647.96 C383.89,649.88 385.31,666.07 386.59,673.39 C387.87,680.71 389.16,688.03 390.44,691.89 C391.73,695.74 393.14,696.00 394.30,696.51 C395.45,697.03 396.43,695.74 397.38,694.97 C398.33,694.20 399.56,691.12 400.00,691.89 C400.44,692.66 399.50,697.15 400.02,699.60 C400.54,702.04 401.95,706.02 403.10,706.53 C404.26,707.05 405.67,702.29 406.96,702.68 C408.24,703.06 409.65,710.90 410.81,708.84 C411.97,706.79 412.86,693.69 413.89,690.35 C414.92,687.01 415.82,686.88 416.97,688.81 C418.13,690.73 419.54,702.16 420.83,701.91 C422.11,701.65 423.40,689.19 424.68,687.26 C425.97,685.34 427.25,690.09 428.54,690.35 C429.82,690.60 431.23,690.22 432.39,688.81 C433.55,687.39 434.32,682.64 435.47,681.87 C436.63,681.10 438.04,686.62 439.33,684.18 C440.61,681.74 441.89,670.31 443.18,667.23 C444.46,664.14 445.75,666.58 447.03,665.68 C448.32,664.78 449.73,661.83 450.89,661.83 C452.04,661.83 452.81,664.27 453.97,665.68 C455.13,667.10 456.80,674.16 457.82,670.31 C458.85,666.45 459.36,642.31 460.13,642.56 C460.91,642.82 461.68,666.20 462.45,671.85 C463.22,677.50 463.99,677.76 464.76,676.47 C465.53,675.19 466.17,666.58 467.07,664.14 C467.97,661.70 469.13,672.49 470.15,661.83 C471.18,651.17 472.34,604.41 473.24,600.17 C474.14,595.93 474.78,622.91 475.55,636.40 C476.32,649.88 476.96,676.99 477.86,681.10 C478.76,685.21 479.92,664.53 480.94,661.06 C481.97,657.59 483.00,660.67 484.03,660.29 C485.05,659.90 486.08,657.08 487.11,658.75 C488.14,660.42 489.29,669.41 490.19,670.31 C491.09,671.21 491.61,668.51 492.50,664.14 C493.40,659.78 494.43,646.16 495.59,644.10 C496.74,642.05 498.16,648.21 499.44,651.81 C500.73,655.41 502.01,665.43 503.29,665.68 C504.58,665.94 505.99,656.95 507.15,653.35 C508.30,649.76 509.08,643.72 510.23,644.10 C511.39,644.49 512.80,654.89 514.08,655.66 C515.37,656.44 516.65,649.24 517.94,648.73 C519.22,648.21 520.51,654.38 521.79,652.58 C523.08,650.78 524.49,639.61 525.65,637.94 C526.80,636.27 527.70,638.20 528.73,642.56 C529.76,646.93 530.66,660.93 531.81,664.14 C532.97,667.35 534.38,659.78 535.66,661.83 C536.95,663.89 538.11,673.26 539.52,676.47 C540.93,679.69 542.60,679.04 544.14,681.10 C545.68,683.15 547.23,689.06 548.77,688.81 C550.31,688.55 551.98,679.81 553.39,679.56 C554.80,679.30 555.96,687.26 557.24,687.26 C558.53,687.26 559.69,681.36 561.10,679.56 C562.51,677.76 564.18,677.24 565.72,676.47 C567.26,675.70 568.81,675.96 570.35,674.93 C571.89,673.90 573.17,670.31 574.97,670.31 C576.77,670.31 579.34,675.96 581.14,674.93 C582.94,673.90 584.22,664.78 585.76,664.14 C587.30,663.50 588.84,671.34 590.39,671.08 C591.93,670.82 593.47,664.40 595.01,662.60 C596.55,660.80 597.96,659.00 599.63,660.29 C601.30,661.57 603.49,671.46 605.03,670.31 C606.57,669.15 607.60,655.54 608.88,653.35 C610.17,651.17 611.19,656.44 612.74,657.21 C614.28,657.98 616.46,658.36 618.13,657.98 C619.80,657.59 621.21,656.44 622.76,654.89 C624.30,653.35 626.17,650.01 627.38,648.73 C628.59,647.44 629.56,647.19 630.00,647.19 C630.44,647.19 629.63,646.93 630.02,648.73 C630.41,650.53 631.56,657.21 632.33,657.98 C633.10,658.75 633.87,654.77 634.64,653.35 C635.41,651.94 636.06,648.73 636.96,649.50 C637.85,650.27 638.88,657.21 640.04,657.98 C641.19,658.75 642.61,653.74 643.89,654.12 C645.18,654.51 646.33,659.65 647.75,660.29 C649.16,660.93 650.83,658.49 652.37,657.98 C653.91,657.46 655.45,656.31 656.99,657.21 C658.54,658.11 660.08,663.50 661.62,663.37 C663.16,663.24 664.70,658.11 666.24,656.44 C667.78,654.77 669.33,653.74 670.87,653.35 C672.41,652.97 673.95,654.38 675.49,654.12 C677.03,653.87 678.83,652.07 680.12,651.81 C681.40,651.55 682.04,653.35 683.20,652.58 C684.35,651.81 685.77,647.32 687.05,647.19 C688.34,647.06 689.49,651.04 690.91,651.81 C692.32,652.58 693.99,651.04 695.53,651.81 C697.07,652.58 698.61,654.64 700.15,656.44 C701.70,658.23 703.24,660.80 704.78,662.60 C706.32,664.40 708.12,665.68 709.40,667.23 C710.69,668.77 711.33,670.31 712.49,671.85 C713.64,673.39 714.93,676.22 716.34,676.47 C717.75,676.73 719.29,673.39 720.96,673.39 C722.63,673.39 724.69,675.96 726.36,676.47 C728.03,676.99 729.57,676.99 730.98,676.47 C732.40,675.96 733.55,674.80 734.84,673.39 C736.12,671.98 737.28,668.00 738.69,668.00 C740.10,668.00 741.90,673.26 743.31,673.39 C744.73,673.52 745.88,669.79 747.17,668.77 C748.45,667.74 749.74,668.38 751.02,667.23 C752.31,666.07 753.33,662.99 754.87,661.83 C756.42,660.67 758.73,660.67 760.27,660.29 C761.81,659.90 762.71,661.06 764.12,659.52 C765.54,657.98 767.33,651.94 768.75,651.04 C770.16,650.14 771.19,653.48 772.60,654.12 C774.01,654.77 775.68,655.02 777.23,654.89 C778.77,654.77 780.31,653.74 781.85,653.35 C783.39,652.97 784.93,651.81 786.47,652.58 C788.02,653.35 789.56,657.85 791.10,657.98 C792.64,658.11 793.92,653.87 795.72,653.35 C797.52,652.84 800.09,653.99 801.89,654.89 C803.69,655.79 804.97,658.88 806.51,658.75 C808.05,658.62 809.60,654.64 811.14,654.12 C812.68,653.61 813.96,655.28 815.76,655.66 C817.56,656.05 820.90,656.31 821.93,656.44" fill="none" stroke="#be4815" stroke-width="2.5" stroke-linejoin="round"/><path d="M168.48,650.27 C174.00,650.40 195.45,651.68 201.62,651.04 C207.78,650.40 204.44,646.80 205.47,646.42 C206.50,646.03 206.89,644.36 207.78,648.73 C208.68,653.10 209.97,669.79 210.87,672.62 C211.77,675.45 212.54,669.15 213.18,665.68 C213.82,662.22 214.08,653.87 214.72,651.81 C215.36,649.76 216.26,633.57 217.03,653.35 C217.80,673.13 218.57,763.56 219.34,770.50 C220.12,777.44 221.01,714.75 221.66,694.97 C222.30,675.19 222.38,636.65 223.20,651.81 C224.02,666.97 225.43,773.58 226.59,785.92 C227.75,798.25 229.03,739.16 230.13,725.80 C231.24,712.44 232.32,703.19 233.22,705.76 C234.12,708.33 234.76,726.83 235.53,741.21 C236.30,755.60 236.94,795.93 237.84,792.08 C238.74,788.23 239.90,731.71 240.92,718.09 C241.95,704.48 242.85,709.61 244.01,710.39 C245.16,711.16 246.71,719.12 247.86,722.72 C249.02,726.31 250.04,735.56 250.94,731.97 C251.84,728.37 252.49,708.33 253.26,701.14 C254.03,693.94 254.67,688.81 255.57,688.81 C256.47,688.81 257.62,698.70 258.65,701.14 C259.68,703.58 260.71,708.07 261.73,703.45 C262.76,698.82 263.92,679.69 264.82,673.39 C265.72,667.10 266.23,665.68 267.13,665.68 C268.03,665.68 269.18,670.95 270.21,673.39 C271.24,675.83 272.27,680.33 273.29,680.33 C274.32,680.33 275.22,681.23 276.38,673.39 C277.53,665.56 279.08,645.39 280.23,633.31 C281.39,621.24 282.29,605.31 283.31,600.94 C284.34,596.58 285.37,604.80 286.40,607.11 C287.42,609.42 288.45,602.74 289.48,614.82 C290.51,626.89 291.28,668.51 292.56,679.56 C293.85,690.60 295.90,680.33 297.19,681.10 C298.47,681.87 299.24,682.64 300.27,684.18 C301.30,685.72 302.20,690.86 303.35,690.35 C304.51,689.83 306.05,681.61 307.21,681.10 C308.36,680.58 309.13,686.36 310.29,687.26 C311.45,688.16 312.73,685.34 314.14,686.49 C315.56,687.65 317.35,694.20 318.77,694.20 C320.18,694.20 321.21,685.85 322.62,686.49 C324.03,687.14 325.83,697.67 327.24,698.05 C328.66,698.44 329.94,690.73 331.10,688.81 C332.25,686.88 332.90,685.59 334.18,686.49 C335.47,687.39 337.26,693.82 338.81,694.20 C340.35,694.59 342.15,690.73 343.43,688.81 C344.71,686.88 345.36,683.92 346.51,682.64 C347.67,681.36 349.08,683.54 350.37,681.10 C351.65,678.66 353.06,675.70 354.22,668.00 C355.38,660.29 356.27,640.89 357.30,634.86 C358.33,628.82 359.23,645.26 360.39,631.77 C361.54,618.29 363.08,550.33 364.24,553.93 C365.39,557.53 366.17,638.07 367.32,653.35 C368.48,668.64 370.02,667.48 371.18,645.65 C372.33,623.81 373.23,517.45 374.26,522.33 C375.29,527.21 376.31,649.24 377.34,674.93 C378.37,700.62 379.40,675.19 380.42,676.47 C381.45,677.76 382.35,682.38 383.51,682.64 C384.66,682.90 386.20,675.83 387.36,678.02 C388.52,680.20 389.42,694.71 390.44,695.74 C391.47,696.77 392.50,685.72 393.53,684.18 C394.55,682.64 395.53,683.67 396.61,686.49 C397.69,689.32 399.43,699.72 400.00,701.14 C400.57,702.55 399.37,696.00 400.02,694.97 C400.66,693.94 402.72,695.23 403.87,694.97 C405.03,694.71 405.93,692.92 406.96,693.43 C407.98,693.94 409.01,698.57 410.04,698.05 C411.07,697.54 412.09,690.60 413.12,690.35 C414.15,690.09 415.18,694.97 416.20,696.51 C417.23,698.05 418.13,701.14 419.29,699.60 C420.44,698.05 421.86,688.81 423.14,687.26 C424.43,685.72 425.58,689.19 426.99,690.35 C428.41,691.50 430.08,693.82 431.62,694.20 C433.16,694.59 434.70,693.82 436.24,692.66 C437.78,691.50 439.45,688.42 440.87,687.26 C442.28,686.11 443.44,690.09 444.72,685.72 C446.01,681.36 447.42,665.68 448.57,661.06 C449.73,656.44 450.76,660.55 451.66,657.98 C452.56,655.41 453.20,642.82 453.97,645.65 C454.74,648.47 455.38,670.31 456.28,674.93 C457.18,679.56 458.21,670.69 459.36,673.39 C460.52,676.09 461.93,690.86 463.22,691.12 C464.50,691.37 465.92,676.35 467.07,674.93 C468.23,673.52 469.13,679.30 470.15,682.64 C471.18,685.98 472.21,695.48 473.24,694.97 C474.26,694.46 475.42,684.18 476.32,679.56 C477.22,674.93 477.86,667.48 478.63,667.23 C479.40,666.97 479.79,675.83 480.94,678.02 C482.10,680.20 484.28,681.36 485.57,680.33 C486.85,679.30 487.83,688.93 488.65,671.85 C489.47,654.77 489.86,579.11 490.50,577.82 C491.14,576.54 491.79,645.26 492.50,664.14 C493.22,683.03 493.92,689.06 494.82,691.12 C495.72,693.17 496.74,675.96 497.90,676.47 C499.06,676.99 500.60,696.00 501.75,694.20 C502.91,692.40 503.68,667.61 504.84,665.68 C505.99,663.76 507.28,681.61 508.69,682.64 C510.10,683.67 511.90,672.75 513.31,671.85 C514.73,670.95 515.75,678.27 517.17,677.24 C518.58,676.22 520.38,668.25 521.79,665.68 C523.20,663.11 524.36,661.70 525.65,661.83 C526.93,661.96 528.21,669.79 529.50,666.45 C530.78,663.11 532.20,639.87 533.35,641.79 C534.51,643.72 535.28,671.72 536.44,678.02 C537.59,684.31 539.00,678.53 540.29,679.56 C541.57,680.58 542.47,682.90 544.14,684.18 C545.81,685.47 548.51,685.98 550.31,687.26 C552.11,688.55 553.39,694.46 554.93,691.89 C556.47,689.32 558.02,672.88 559.56,671.85 C561.10,670.82 562.90,684.44 564.18,685.72 C565.47,687.01 565.98,681.87 567.26,679.56 C568.55,677.24 570.60,673.39 571.89,671.85 C573.17,670.31 574.07,671.72 574.97,670.31 C575.87,668.90 576.38,663.89 577.28,663.37 C578.18,662.86 579.34,677.37 580.37,667.23 C581.39,657.08 582.55,620.85 583.45,602.49 C584.35,584.12 584.86,564.21 585.76,557.01 C586.66,549.82 587.82,559.33 588.84,559.33 C589.87,559.33 590.77,550.08 591.93,557.01 C593.08,563.95 594.62,597.99 595.78,600.94 C596.94,603.90 597.71,581.16 598.86,574.74 C600.02,568.32 601.43,558.81 602.72,562.41 C604.00,566.01 605.29,582.19 606.57,596.32 C607.85,610.45 609.27,637.42 610.42,647.19 C611.58,656.95 611.97,651.68 613.51,654.89 C615.05,658.11 617.87,665.17 619.67,666.45 C621.47,667.74 623.14,664.01 624.30,662.60 C625.45,661.19 625.66,655.15 626.61,657.98 C627.56,660.80 629.05,675.19 630.00,679.56 C630.95,683.92 631.43,684.69 632.33,684.18 C633.23,683.67 634.39,678.40 635.41,676.47 C636.44,674.55 637.47,672.11 638.50,672.62 C639.52,673.13 640.55,676.60 641.58,679.56 C642.61,682.51 643.64,687.78 644.66,690.35 C645.69,692.92 646.72,696.77 647.75,694.97 C648.77,693.17 649.93,684.18 650.83,679.56 C651.73,674.93 652.37,668.25 653.14,667.23 C653.91,666.20 654.55,671.08 655.45,673.39 C656.35,675.70 657.51,680.58 658.54,681.10 C659.56,681.61 660.59,678.27 661.62,676.47 C662.65,674.68 663.55,672.75 664.70,670.31 C665.86,667.87 667.53,662.34 668.55,661.83 C669.58,661.32 670.10,665.43 670.87,667.23 C671.64,669.02 672.15,673.26 673.18,672.62 C674.21,671.98 675.62,665.56 677.03,663.37 C678.45,661.19 680.12,660.03 681.66,659.52 C683.20,659.00 684.74,660.03 686.28,660.29 C687.82,660.55 689.49,661.83 690.91,661.06 C692.32,660.29 693.47,655.41 694.76,655.66 C696.04,655.92 697.46,661.96 698.61,662.60 C699.77,663.24 700.41,659.65 701.70,659.52 C702.98,659.39 705.04,661.06 706.32,661.83 C707.60,662.60 708.38,662.47 709.40,664.14 C710.43,665.81 711.46,671.59 712.49,671.85 C713.51,672.11 714.28,666.33 715.57,665.68 C716.85,665.04 718.65,668.25 720.19,668.00 C721.73,667.74 723.28,664.91 724.82,664.14 C726.36,663.37 728.16,663.76 729.44,663.37 C730.73,662.99 731.50,662.86 732.52,661.83 C733.55,660.80 734.58,657.08 735.61,657.21 C736.63,657.33 737.66,662.22 738.69,662.60 C739.72,662.99 740.62,659.65 741.77,659.52 C742.93,659.39 744.34,662.47 745.63,661.83 C746.91,661.19 748.07,656.44 749.48,655.66 C750.89,654.89 752.69,656.69 754.10,657.21 C755.52,657.72 756.80,658.36 757.96,658.75 C759.11,659.13 760.01,660.16 761.04,659.52 C762.07,658.88 762.97,655.54 764.12,654.89 C765.28,654.25 766.69,655.15 767.98,655.66 C769.26,656.18 770.67,656.44 771.83,657.98 C772.99,659.52 773.76,664.53 774.91,664.91 C776.07,665.30 777.35,660.42 778.77,660.29 C780.18,660.16 782.11,662.99 783.39,664.14 C784.68,665.30 785.45,665.43 786.47,667.23 C787.50,669.02 788.40,674.80 789.56,674.93 C790.71,675.06 791.87,669.15 793.41,668.00 C794.95,666.84 797.14,666.71 798.81,668.00 C800.48,669.28 801.89,675.19 803.43,675.70 C804.97,676.22 806.51,671.98 808.05,671.08 C809.60,670.18 811.14,670.31 812.68,670.31 C814.22,670.31 815.76,671.85 817.30,671.08 C818.84,670.31 821.16,666.58 821.93,665.68" fill="none" stroke="#daab2a" stroke-width="2.5" stroke-linejoin="round"/><path d="M1111.57,373.95 C1117.67,373.95 1140.48,375.07 1148.19,373.95 C1155.90,372.82 1154.93,368.97 1157.83,367.20 C1160.72,365.43 1162.64,363.67 1165.54,363.35 C1168.43,363.02 1172.28,365.59 1175.17,365.27 C1178.06,364.95 1179.99,362.22 1182.88,361.42 C1185.77,360.62 1189.63,361.26 1192.52,360.45 C1195.41,359.65 1197.66,357.56 1200.23,356.60 C1202.80,355.64 1204.73,355.15 1207.94,354.67 C1211.15,354.19 1216.29,354.03 1219.51,353.71 C1222.72,353.39 1224.00,353.55 1227.22,352.74 C1230.43,351.94 1235.57,349.85 1238.78,348.89 C1241.99,347.93 1243.60,347.77 1246.49,346.96 C1249.38,346.16 1253.56,345.20 1256.13,344.07 C1258.70,342.95 1259.66,341.50 1261.91,340.22 C1264.16,338.93 1266.73,337.32 1269.62,336.36 C1272.51,335.40 1276.37,335.24 1279.26,334.43 C1282.15,333.63 1284.40,332.67 1286.97,331.54 C1289.54,330.42 1292.11,328.81 1294.68,327.69 C1297.25,326.56 1299.82,326.08 1302.39,324.80 C1304.96,323.51 1306.89,321.10 1310.10,319.98 C1313.31,318.85 1318.45,318.85 1321.67,318.05 C1324.88,317.25 1326.16,316.76 1329.38,315.16 C1332.59,313.55 1337.41,310.98 1340.94,308.41 C1344.47,305.84 1347.37,302.15 1350.58,299.74 C1353.79,297.33 1357.00,295.72 1360.22,293.96 C1363.43,292.19 1366.64,290.74 1369.85,289.14 C1373.07,287.53 1376.28,285.44 1379.49,284.32 C1382.70,283.19 1385.59,282.39 1389.13,282.39 C1392.66,282.39 1396.84,284.48 1400.69,284.32 C1404.55,284.16 1408.40,281.91 1412.26,281.43 C1416.11,280.94 1419.20,281.27 1423.82,281.43 C1428.45,281.59 1435.75,281.39 1440.02,282.39 C1444.28,283.39 1444.59,284.83 1449.39,287.44 C1454.18,290.06 1462.64,294.72 1468.77,298.11 C1474.91,301.50 1480.73,304.57 1486.22,307.80 C1491.72,311.03 1495.92,314.10 1501.73,317.50 C1507.55,320.89 1514.34,324.77 1521.12,328.16 C1527.91,331.55 1535.01,334.78 1542.45,337.85 C1549.88,340.92 1557.96,343.83 1565.71,346.58 C1573.47,349.32 1581.22,352.07 1588.98,354.33 C1596.73,356.59 1604.49,358.37 1612.24,360.15 C1620.00,361.92 1627.43,363.54 1635.51,364.99 C1643.58,366.45 1652.63,367.74 1660.71,368.87 C1668.79,370.00 1676.22,370.81 1683.97,371.78 C1691.73,372.75 1699.16,374.04 1707.24,374.69 C1715.32,375.33 1725.33,375.33 1732.44,375.66 C1739.55,375.98 1743.91,376.47 1749.89,376.63 C1755.87,376.79 1765.24,376.63 1768.31,376.63" fill="none" stroke="#3466b2" stroke-width="3" stroke-dasharray="12.5 11.5"/><path d="M1111.57,373.95 C1117.67,373.95 1140.16,374.11 1148.19,373.95 C1156.22,373.79 1156.86,374.11 1159.75,372.98 C1162.64,371.86 1162.64,369.13 1165.54,367.20 C1168.43,365.27 1173.57,363.02 1177.10,361.42 C1180.63,359.81 1183.20,358.85 1186.74,357.56 C1190.27,356.28 1194.77,355.48 1198.30,353.71 C1201.84,351.94 1204.41,348.73 1207.94,346.96 C1211.48,345.20 1215.97,344.23 1219.51,343.11 C1223.04,341.98 1225.93,341.66 1229.14,340.22 C1232.36,338.77 1235.89,336.68 1238.78,334.43 C1241.67,332.18 1243.60,329.61 1246.49,326.72 C1249.38,323.83 1253.24,319.66 1256.13,317.09 C1259.02,314.52 1261.27,313.55 1263.84,311.30 C1266.41,309.05 1268.98,306.16 1271.55,303.59 C1274.12,301.02 1277.01,298.93 1279.26,295.88 C1281.51,292.83 1282.79,288.01 1285.04,285.28 C1287.29,282.55 1290.18,282.87 1292.75,279.50 C1295.32,276.13 1297.89,269.70 1300.46,265.04 C1303.03,260.38 1306.25,254.76 1308.17,251.55 C1310.10,248.34 1310.10,248.66 1312.03,245.77 C1313.96,242.88 1317.17,237.09 1319.74,234.20 C1322.31,231.31 1324.88,230.19 1327.45,228.42 C1330.02,226.65 1332.59,224.56 1335.16,223.60 C1337.73,222.64 1340.30,221.83 1342.87,222.64 C1345.44,223.44 1348.01,225.53 1350.58,228.42 C1353.15,231.31 1355.72,235.17 1358.29,239.98 C1360.86,244.80 1363.43,251.87 1366.00,257.33 C1368.57,262.79 1371.14,268.25 1373.71,272.75 C1376.28,277.25 1378.85,280.46 1381.42,284.32 C1383.99,288.17 1386.56,292.03 1389.13,295.88 C1391.70,299.74 1394.27,303.91 1396.84,307.45 C1399.41,310.98 1401.66,313.87 1404.55,317.09 C1407.44,320.30 1410.33,323.19 1414.19,326.72 C1418.04,330.26 1423.37,334.92 1427.68,338.29 C1431.98,341.66 1435.43,344.29 1440.02,346.96 C1444.60,349.64 1448.79,351.65 1455.20,354.33 C1461.61,357.01 1470.71,360.47 1478.47,363.06 C1486.22,365.64 1494.62,367.74 1501.73,369.84 C1508.84,371.94 1514.34,374.20 1521.12,375.66 C1527.91,377.11 1536.31,378.40 1542.45,378.57 C1548.59,378.73 1552.46,376.63 1557.96,376.63 C1563.45,376.63 1569.59,378.57 1575.41,378.57 C1581.22,378.57 1588.01,377.43 1592.85,376.63 C1597.70,375.82 1600.93,373.56 1604.49,373.72 C1608.04,373.88 1610.95,377.43 1614.18,377.60 C1617.41,377.76 1621.29,374.69 1623.87,374.69 C1626.46,374.69 1626.46,377.43 1629.69,377.60 C1632.92,377.76 1637.77,375.82 1643.26,375.66 C1648.75,375.50 1655.22,376.63 1662.65,376.63 C1670.08,376.63 1679.77,375.82 1687.85,375.66 C1695.93,375.50 1704.33,375.33 1711.12,375.66 C1717.90,375.98 1723.07,377.60 1728.57,377.60 C1734.06,377.60 1737.45,375.82 1744.08,375.66 C1750.70,375.50 1764.27,376.47 1768.31,376.63" fill="none" stroke="#be4815" stroke-width="3" stroke-dasharray="12.5 11.5"/><path d="M1111.57,373.95 C1117.67,373.95 1140.48,374.75 1148.19,373.95 C1155.90,373.14 1155.26,371.22 1157.83,369.13 C1160.40,367.04 1160.40,365.27 1163.61,361.42 C1166.82,357.56 1173.25,350.50 1177.10,346.00 C1180.96,341.50 1182.88,338.93 1186.74,334.43 C1190.59,329.94 1196.05,324.80 1200.23,319.01 C1204.41,313.23 1208.26,306.16 1211.80,299.74 C1215.33,293.31 1218.86,286.89 1221.43,280.46 C1224.00,274.04 1224.97,267.93 1227.22,261.19 C1229.47,254.44 1232.36,246.73 1234.93,239.98 C1237.50,233.24 1240.39,226.49 1242.64,220.71 C1244.89,214.93 1246.49,211.07 1248.42,205.29 C1250.35,199.51 1252.60,190.51 1254.20,186.01 C1255.81,181.52 1256.45,182.16 1258.06,178.30 C1259.66,174.45 1261.91,167.38 1263.84,162.88 C1265.77,158.39 1268.02,154.53 1269.62,151.32 C1271.23,148.11 1272.35,146.18 1273.48,143.61 C1274.60,141.04 1275.24,140.72 1276.37,135.90 C1277.49,131.08 1278.94,111.16 1280.22,114.70 C1281.51,118.23 1282.63,150.03 1284.08,157.10 C1285.52,164.17 1287.45,151.96 1288.90,157.10 C1290.34,162.24 1291.47,179.91 1292.75,187.94 C1294.04,195.97 1295.32,198.54 1296.61,205.29 C1297.89,212.04 1299.18,221.99 1300.46,228.42 C1301.75,234.84 1303.03,239.66 1304.32,243.84 C1305.60,248.02 1306.89,249.30 1308.17,253.48 C1309.46,257.65 1310.74,264.40 1312.03,268.90 C1313.31,273.40 1314.28,275.97 1315.88,280.46 C1317.49,284.96 1319.90,292.03 1321.67,295.88 C1323.43,299.74 1324.56,299.74 1326.48,303.59 C1328.41,307.45 1330.50,314.52 1333.23,319.01 C1335.96,323.51 1339.66,326.40 1342.87,330.58 C1346.08,334.75 1348.65,340.22 1352.51,344.07 C1356.36,347.93 1361.18,350.17 1366.00,353.71 C1370.82,357.24 1376.28,362.06 1381.42,365.27 C1386.56,368.49 1391.06,370.57 1396.84,372.98 C1402.62,375.39 1410.97,378.83 1416.11,379.73 C1421.25,380.63 1423.70,379.02 1427.68,378.38 C1431.66,377.74 1436.40,375.68 1440.02,375.88 C1443.63,376.07 1445.89,379.89 1449.39,379.53 C1452.89,379.18 1458.43,374.20 1461.02,373.72 C1463.60,373.23 1462.31,376.30 1464.90,376.63 C1467.48,376.95 1473.30,375.82 1476.53,375.66 C1479.76,375.50 1480.41,375.82 1484.28,375.66 C1488.16,375.50 1494.62,374.53 1499.79,374.69 C1504.96,374.85 1509.49,376.47 1515.30,376.63 C1521.12,376.79 1528.23,375.66 1534.69,375.66 C1541.15,375.66 1547.62,376.30 1554.08,376.63 C1560.54,376.95 1566.36,377.60 1573.47,377.60 C1580.58,377.60 1588.33,376.95 1596.73,376.63 C1605.13,376.30 1616.12,375.66 1623.87,375.66 C1631.63,375.66 1636.80,376.47 1643.26,376.63 C1649.72,376.79 1656.19,376.63 1662.65,376.63 C1669.11,376.63 1675.57,376.63 1682.04,376.63 C1688.50,376.63 1694.96,376.63 1701.42,376.63 C1707.89,376.63 1714.35,376.56 1720.81,376.63 C1727.27,376.69 1732.28,377.01 1740.20,377.01 C1748.11,377.01 1763.62,376.69 1768.31,376.63" fill="none" stroke="#daab2a" stroke-width="3" stroke-dasharray="12.5 11.5"/><path d="M1111.57,562.04 C1117.67,562.04 1140.96,561.08 1148.19,562.04 C1155.42,563.01 1153.33,565.58 1154.93,567.83 C1156.54,570.07 1156.38,571.68 1157.83,575.54 C1159.27,579.39 1161.68,588.71 1163.61,590.96 C1165.54,593.20 1167.78,592.24 1169.39,589.03 C1171.00,585.82 1171.96,574.89 1173.25,571.68 C1174.53,568.47 1175.82,569.11 1177.10,569.75 C1178.39,570.40 1179.51,573.45 1180.96,575.54 C1182.40,577.62 1184.17,581.16 1185.77,582.28 C1187.38,583.41 1188.83,581.48 1190.59,582.28 C1192.36,583.09 1194.77,584.05 1196.38,587.10 C1197.98,590.15 1198.95,597.86 1200.23,600.59 C1201.52,603.32 1202.80,604.45 1204.09,603.48 C1205.37,602.52 1206.34,597.38 1207.94,594.81 C1209.55,592.24 1212.12,588.06 1213.72,588.06 C1215.33,588.06 1215.97,591.60 1217.58,594.81 C1219.19,598.02 1221.43,605.73 1223.36,607.34 C1225.29,608.95 1227.22,605.73 1229.14,604.45 C1231.07,603.16 1233.00,598.99 1234.93,599.63 C1236.85,600.27 1238.78,605.89 1240.71,608.30 C1242.64,610.71 1244.24,612.48 1246.49,614.09 C1248.74,615.69 1251.63,616.82 1254.20,617.94 C1256.77,619.07 1259.34,619.23 1261.91,620.83 C1264.48,622.44 1267.05,625.17 1269.62,627.58 C1272.19,629.99 1274.76,633.68 1277.33,635.29 C1279.90,636.90 1282.47,635.61 1285.04,637.22 C1287.61,638.82 1290.18,643.16 1292.75,644.93 C1295.32,646.69 1297.89,647.34 1300.46,647.82 C1303.03,648.30 1305.92,647.01 1308.17,647.82 C1310.42,648.62 1311.71,652.48 1313.96,652.64 C1316.20,652.80 1319.42,650.07 1321.67,648.78 C1323.91,647.50 1325.84,645.89 1327.45,644.93 C1329.05,643.96 1329.05,643.00 1331.30,643.00 C1333.55,643.00 1338.37,642.68 1340.94,644.93 C1343.51,647.18 1344.80,651.67 1346.72,656.49 C1348.65,661.31 1350.26,668.70 1352.51,673.84 C1354.75,678.98 1357.97,685.73 1360.22,687.33 C1362.46,688.94 1363.11,685.40 1366.00,683.48 C1368.89,681.55 1374.67,676.09 1377.56,675.77 C1380.45,675.45 1380.78,679.14 1383.35,681.55 C1385.92,683.96 1390.41,689.26 1392.98,690.22 C1395.55,691.19 1396.52,688.30 1398.77,687.33 C1401.02,686.37 1404.23,683.32 1406.48,684.44 C1408.73,685.57 1410.33,693.92 1412.26,694.08 C1414.19,694.24 1415.79,688.14 1418.04,685.40 C1420.29,682.67 1423.50,678.66 1425.75,677.69 C1428.00,676.73 1429.16,679.62 1431.53,679.62 C1433.91,679.62 1438.33,678.18 1440.02,677.69 C1441.70,677.21 1438.78,676.57 1441.63,676.73 C1444.49,676.89 1453.43,679.64 1457.14,678.67 C1460.86,677.70 1461.34,673.98 1463.93,670.92 C1466.51,667.85 1469.91,661.87 1472.65,660.25 C1475.40,658.64 1477.18,661.22 1480.41,661.22 C1483.64,661.22 1488.81,661.87 1492.04,660.25 C1495.27,658.64 1496.89,654.27 1499.79,651.53 C1502.70,648.78 1506.58,645.39 1509.49,643.77 C1512.40,642.16 1514.34,643.13 1517.24,641.83 C1520.15,640.54 1523.71,637.96 1526.94,636.02 C1530.17,634.08 1533.08,632.14 1536.63,630.20 C1540.18,628.26 1544.39,626.16 1548.26,624.39 C1552.14,622.61 1555.69,621.48 1559.90,619.54 C1564.10,617.60 1568.30,615.18 1573.47,612.75 C1578.64,610.33 1584.78,607.58 1590.92,605.00 C1597.05,602.41 1603.52,599.99 1610.30,597.24 C1617.09,594.50 1624.52,590.94 1631.63,588.52 C1638.74,586.10 1645.85,584.64 1652.95,582.70 C1660.06,580.76 1667.50,578.83 1674.28,576.89 C1681.07,574.95 1687.21,572.85 1693.67,571.07 C1700.13,569.29 1706.59,567.68 1713.06,566.22 C1719.52,564.77 1726.30,562.99 1732.44,562.35 C1738.58,561.70 1745.37,562.18 1749.89,562.35 C1754.42,562.51 1756.52,563.15 1759.59,563.32 C1762.65,563.48 1766.86,563.32 1768.31,563.32" fill="none" stroke="#3466b2" stroke-width="3" stroke-dasharray="12.5 11.5"/><path d="M1111.57,562.04 C1117.67,562.04 1140.48,561.56 1148.19,562.04 C1155.90,562.53 1155.26,563.97 1157.83,564.93 C1160.40,565.90 1161.84,565.10 1163.61,567.83 C1165.38,570.56 1166.82,577.46 1168.43,581.32 C1170.03,585.17 1171.80,589.51 1173.25,590.96 C1174.69,592.40 1175.49,591.28 1177.10,589.99 C1178.71,588.71 1180.63,583.73 1182.88,583.25 C1185.13,582.76 1188.02,585.82 1190.59,587.10 C1193.16,588.39 1196.05,588.71 1198.30,590.96 C1200.55,593.20 1202.48,596.58 1204.09,600.59 C1205.69,604.61 1206.01,613.44 1207.94,615.05 C1209.87,616.66 1213.08,609.75 1215.65,610.23 C1218.22,610.71 1221.11,615.69 1223.36,617.94 C1225.61,620.19 1227.22,622.44 1229.14,623.72 C1231.07,625.01 1233.00,625.97 1234.93,625.65 C1236.85,625.33 1238.78,620.19 1240.71,621.80 C1242.64,623.40 1244.56,631.43 1246.49,635.29 C1248.42,639.14 1250.35,641.39 1252.27,644.93 C1254.20,648.46 1255.49,654.08 1258.06,656.49 C1260.63,658.90 1264.80,657.13 1267.69,659.38 C1270.59,661.63 1272.83,667.25 1275.40,669.98 C1277.97,672.72 1280.54,673.20 1283.11,675.77 C1285.68,678.34 1288.25,682.51 1290.82,685.40 C1293.40,688.30 1295.97,690.71 1298.54,693.11 C1301.11,695.52 1304.00,697.29 1306.25,699.86 C1308.49,702.43 1309.78,705.97 1312.03,708.54 C1314.28,711.11 1316.53,713.84 1319.74,715.28 C1322.95,716.73 1327.77,717.21 1331.30,717.21 C1334.84,717.21 1338.05,716.41 1340.94,715.28 C1343.83,714.16 1346.08,713.19 1348.65,710.46 C1351.22,707.73 1354.11,702.75 1356.36,698.90 C1358.61,695.04 1359.89,690.06 1362.14,687.33 C1364.39,684.60 1366.96,683.80 1369.85,682.51 C1372.74,681.23 1376.92,682.03 1379.49,679.62 C1382.06,677.21 1383.35,672.23 1385.27,668.06 C1387.20,663.88 1388.81,658.42 1391.06,654.56 C1393.31,650.71 1395.88,647.50 1398.77,644.93 C1401.66,642.36 1405.19,640.75 1408.40,639.14 C1411.62,637.54 1415.15,636.90 1418.04,635.29 C1420.93,633.68 1423.18,632.40 1425.75,629.51 C1428.32,626.62 1431.08,621.15 1433.46,617.94 C1435.84,614.73 1436.71,612.71 1440.02,610.23 C1443.32,607.75 1447.50,606.52 1453.26,603.06 C1459.03,599.60 1467.81,593.37 1474.59,589.49 C1481.38,585.61 1487.52,583.03 1493.98,579.79 C1500.44,576.56 1507.23,572.85 1513.37,570.10 C1519.50,567.35 1525.97,564.61 1530.81,563.32 C1535.66,562.02 1538.89,562.18 1542.45,562.35 C1546.00,562.51 1549.56,563.32 1552.14,564.28 C1554.73,565.25 1555.05,567.68 1557.96,568.16 C1560.86,568.65 1566.36,569.45 1569.59,567.19 C1572.82,564.93 1574.76,555.24 1577.34,554.59 C1579.93,553.94 1581.87,561.38 1585.10,563.32 C1588.33,565.25 1593.50,566.55 1596.73,566.22 C1599.96,565.90 1601.90,563.96 1604.49,561.38 C1607.07,558.79 1609.33,551.36 1612.24,550.71 C1615.15,550.07 1619.67,555.24 1621.93,557.50 C1624.20,559.76 1624.20,564.77 1625.81,564.28 C1627.43,563.80 1629.37,555.08 1631.63,554.59 C1633.89,554.11 1637.12,559.28 1639.38,561.38 C1641.65,563.48 1642.61,567.68 1645.20,567.19 C1647.78,566.71 1651.99,559.44 1654.89,558.47 C1657.80,557.50 1658.77,560.89 1662.65,561.38 C1666.53,561.86 1674.28,561.86 1678.16,561.38 C1682.04,560.89 1683.01,557.66 1685.91,558.47 C1688.82,559.28 1692.70,565.74 1695.61,566.22 C1698.51,566.71 1700.45,561.54 1703.36,561.38 C1706.27,561.21 1710.15,564.12 1713.06,565.25 C1715.96,566.38 1717.58,568.16 1720.81,568.16 C1724.04,568.16 1729.21,565.25 1732.44,565.25 C1735.67,565.25 1737.29,567.84 1740.20,568.16 C1743.11,568.49 1746.66,567.84 1749.89,567.19 C1753.12,566.55 1756.52,565.09 1759.59,564.28 C1762.65,563.48 1766.86,562.67 1768.31,562.35" fill="none" stroke="#be4815" stroke-width="3" stroke-dasharray="12.5 11.5"/><path d="M1111.57,562.04 C1117.67,562.04 1140.80,561.72 1148.19,562.04 C1155.58,562.36 1153.65,562.69 1155.90,563.97 C1158.15,565.26 1159.43,566.54 1161.68,569.75 C1163.93,572.97 1166.82,578.43 1169.39,583.25 C1171.96,588.06 1174.53,593.85 1177.10,598.67 C1179.67,603.48 1182.24,607.98 1184.81,612.16 C1187.38,616.34 1189.95,620.83 1192.52,623.72 C1195.09,626.62 1197.98,625.97 1200.23,629.51 C1202.48,633.04 1204.09,640.43 1206.01,644.93 C1207.94,649.42 1209.55,652.64 1211.80,656.49 C1214.05,660.35 1217.26,662.92 1219.51,668.06 C1221.76,673.20 1223.36,681.87 1225.29,687.33 C1227.22,692.79 1228.82,697.45 1231.07,700.82 C1233.32,704.20 1236.85,705.97 1238.78,707.57 C1240.71,709.18 1241.35,706.77 1242.64,710.46 C1243.92,714.16 1244.89,722.67 1246.49,729.74 C1248.10,736.81 1250.35,747.73 1252.27,752.87 C1254.20,758.01 1255.81,757.37 1258.06,760.58 C1260.31,763.79 1263.20,768.93 1265.77,772.14 C1268.34,775.36 1271.23,778.89 1273.48,779.85 C1275.73,780.82 1277.33,781.14 1279.26,777.93 C1281.19,774.71 1283.11,767.65 1285.04,760.58 C1286.97,753.51 1289.22,742.59 1290.82,735.52 C1292.43,728.45 1293.40,723.63 1294.68,718.17 C1295.97,712.71 1296.93,707.57 1298.54,702.75 C1300.14,697.93 1302.71,693.11 1304.32,689.26 C1305.92,685.40 1306.89,683.80 1308.17,679.62 C1309.46,675.45 1310.74,668.70 1312.03,664.20 C1313.31,659.70 1314.28,656.01 1315.88,652.64 C1317.49,649.26 1319.74,645.57 1321.67,643.96 C1323.59,642.36 1325.84,644.44 1327.45,643.00 C1329.05,641.55 1330.02,638.82 1331.30,635.29 C1332.59,631.76 1333.55,625.33 1335.16,621.80 C1336.76,618.26 1339.01,615.69 1340.94,614.09 C1342.87,612.48 1345.12,614.09 1346.72,612.16 C1348.33,610.23 1348.97,605.73 1350.58,602.52 C1352.18,599.31 1354.43,594.97 1356.36,592.88 C1358.29,590.80 1359.89,590.63 1362.14,589.99 C1364.39,589.35 1367.28,590.31 1369.85,589.03 C1372.42,587.74 1374.99,584.53 1377.56,582.28 C1380.13,580.03 1382.70,577.30 1385.27,575.54 C1387.84,573.77 1390.41,572.97 1392.98,571.68 C1395.55,570.40 1398.12,568.95 1400.69,567.83 C1403.26,566.70 1405.51,566.06 1408.40,564.93 C1411.30,563.81 1414.83,561.56 1418.04,561.08 C1421.25,560.60 1424.02,562.14 1427.68,562.04 C1431.34,561.95 1437.69,560.71 1440.02,560.50 C1442.34,560.29 1438.45,561.13 1441.63,560.79 C1444.81,560.46 1452.94,559.18 1459.08,558.47 C1465.22,557.76 1472.98,557.34 1478.47,556.53 C1483.96,555.72 1489.13,553.46 1492.04,553.62 C1494.95,553.78 1493.01,557.98 1495.92,557.50 C1498.83,557.01 1504.32,551.59 1509.49,550.71 C1514.66,549.84 1521.12,551.78 1526.94,552.26 C1532.75,552.75 1538.57,553.30 1544.39,553.62 C1550.20,553.94 1555.69,553.98 1561.83,554.20 C1567.97,554.43 1575.08,554.66 1581.22,554.98 C1587.36,555.30 1592.85,556.04 1598.67,556.14 C1604.49,556.24 1609.98,555.33 1616.12,555.56 C1622.26,555.79 1628.40,556.95 1635.51,557.50 C1642.61,558.05 1651.34,558.76 1658.77,558.86 C1666.20,558.95 1673.63,558.40 1680.10,558.08 C1686.56,557.76 1691.73,557.18 1697.55,556.92 C1703.36,556.66 1709.18,556.69 1714.99,556.53 C1720.81,556.37 1726.63,556.01 1732.44,555.95 C1738.26,555.88 1743.91,556.21 1749.89,556.14 C1755.87,556.08 1765.24,555.66 1768.31,555.56" fill="none" stroke="#daab2a" stroke-width="3" stroke-dasharray="12.5 11.5"/><path d="M1272,160 L1274,128 L1275,170 L1276,118 L1277,165 L1278,113 L1279,175 L1280,125 L1281,182 L1282,140 L1283,170 L1284,135 L1285,178 L1286,150 L1287,168 L1288,148 L1290,175" fill="none" stroke="#daab2a" stroke-width="2.4"/><text x="1.82" y="33.80" font-family='"Liberation Sans", Arial, sans-serif' font-weight="bold" font-size="43" fill="#000">A</text>
<text x="9.90" y="507.30" font-family='"Liberation Sans", Arial, sans-serif' font-weight="bold" font-size="43" fill="#000">B</text>
<text x="932.08" y="33.00" font-family='"Liberation Sans", Arial, sans-serif' font-weight="bold" font-size="43" fill="#000">C</text>
<text x="933.10" y="510.00" font-family='"Liberation Sans", Arial, sans-serif' font-weight="bold" font-size="43" fill="#000">D</text>
<text x="2.10" y="1034.00" font-family='"Liberation Sans", Arial, sans-serif' font-weight="bold" font-size="43" fill="#000">E</text>
<text x="426.70" y="1033.00" font-family='"Liberation Sans", Arial, sans-serif' font-weight="bold" font-size="43" fill="#000">F</text>
<line x1="192.7" y1="25.3" x2="241.1" y2="25.3" stroke="#3466b2" stroke-width="2.6"/>
<text x="0" y="0" transform="translate(243.45,43.50) scale(0.9916,1)" font-family='"Liberation Serif", "Times New Roman", serif' font-weight="normal" font-size="52" fill="#000">Blast 1</text>
<line x1="402.2" y1="25.3" x2="450.3" y2="25.3" stroke="#be4815" stroke-width="2.6"/>
<text x="0" y="0" transform="translate(453.02,43.50) scale(1.0160,1)" font-family='"Liberation Serif", "Times New Roman", serif' font-weight="normal" font-size="52" fill="#000">Blast 2</text>
<line x1="612.3" y1="25.3" x2="659.7" y2="25.3" stroke="#daab2a" stroke-width="2.6"/>
<text x="662.44" y="43.50" font-family='"Liberation Serif", "Times New Roman", serif' font-weight="normal" font-size="52" fill="#000">Blast 3</text>
<line x1="1033" y1="20.2" x2="1077" y2="20.2" stroke="#3466b2" stroke-width="2.6" stroke-dasharray="15.5 13"/>
<text x="0" y="0" transform="translate(1084.18,38.10) scale(0.9973,1)" font-family='"Liberation Serif", "Times New Roman", serif' font-weight="normal" font-size="52" fill="#000">Impact 1</text>
<line x1="1281" y1="20.2" x2="1326" y2="20.2" stroke="#be4815" stroke-width="2.6" stroke-dasharray="15.5 13"/>
<text x="0" y="0" transform="translate(1331.35,38.10) scale(1.0187,1)" font-family='"Liberation Serif", "Times New Roman", serif' font-weight="normal" font-size="52" fill="#000">Impact 2</text>
<line x1="1528.4" y1="20.2" x2="1573" y2="20.2" stroke="#daab2a" stroke-width="2.6" stroke-dasharray="15.5 13"/>
<text x="0" y="0" transform="translate(1579.77,38.10) scale(1.0065,1)" font-family='"Liberation Serif", "Times New Roman", serif' font-weight="normal" font-size="52" fill="#000">Impact 3</text>
<path d="M169,85.5 L169,393 L822.5,393" fill="none" stroke="#1c1c1c" stroke-width="2.5" stroke-linecap="square"/>
<line x1="169.0" y1="393" x2="169.0" y2="386" stroke="#1c1c1c" stroke-width="2.5"/>
<line x1="332.25" y1="393" x2="332.25" y2="386" stroke="#1c1c1c" stroke-width="2.5"/>
<line x1="495.5" y1="393" x2="495.5" y2="386" stroke="#1c1c1c" stroke-width="2.5"/>
<line x1="658.75" y1="393" x2="658.75" y2="386" stroke="#1c1c1c" stroke-width="2.5"/>
<line x1="822.0" y1="393" x2="822.0" y2="386" stroke="#1c1c1c" stroke-width="2.5"/>
<line x1="169" y1="120.60000000000001" x2="176" y2="120.60000000000001" stroke="#1c1c1c" stroke-width="2.5"/>
<line x1="169" y1="239.4" x2="176" y2="239.4" stroke="#1c1c1c" stroke-width="2.5"/>
<line x1="169" y1="358.2" x2="176" y2="358.2" stroke="#1c1c1c" stroke-width="2.5"/>
<text x="157.75" y="446.50" font-family='"Liberation Serif", "Times New Roman", serif' font-weight="normal" font-size="45" fill="#1c1c1c">0</text>
<text x="304.68" y="446.50" font-family='"Liberation Serif", "Times New Roman", serif' font-weight="normal" font-size="45" fill="#1c1c1c">0.5</text>
<text x="483.63" y="446.50" font-family='"Liberation Serif", "Times New Roman", serif' font-weight="normal" font-size="45" fill="#1c1c1c">1</text>
<text x="631.56" y="446.50" font-family='"Liberation Serif", "Times New Roman", serif' font-weight="normal" font-size="45" fill="#1c1c1c">1.5</text>
<text x="810.98" y="446.50" font-family='"Liberation Serif", "Times New Roman", serif' font-weight="normal" font-size="45" fill="#1c1c1c">2</text>
<text x="67.29" y="138.00" font-family='"Liberation Serif", "Times New Roman", serif' font-weight="normal" font-size="45" fill="#1c1c1c">1000</text>
<text x="134.79" y="255.30" font-family='"Liberation Serif", "Times New Roman", serif' font-weight="normal" font-size="45" fill="#1c1c1c">0</text>
<text x="52.33" y="374.60" font-family='"Liberation Serif", "Times New Roman", serif' font-weight="normal" font-size="45" fill="#1c1c1c">-1000</text>
<text x="402.02" y="499.90" font-family='"Liberation Serif", "Times New Roman", serif' font-weight="normal" font-size="45" fill="#1c1c1c">Time (ms)</text>
<text transform="translate(39.30,386.35) rotate(-90)" x="0" y="0" font-family='"Liberation Serif", "Times New Roman", serif' font-weight="normal" font-size="45" fill="#1c1c1c">Acceleration (g)</text>
<path d="M169,518 L169,825.5 L822.5,825.5" fill="none" stroke="#1c1c1c" stroke-width="2.5" stroke-linecap="square"/>
<line x1="169.0" y1="825.5" x2="169.0" y2="818.5" stroke="#1c1c1c" stroke-width="2.5"/>
<line x1="332.25" y1="825.5" x2="332.25" y2="818.5" stroke="#1c1c1c" stroke-width="2.5"/>
<line x1="495.5" y1="825.5" x2="495.5" y2="818.5" stroke="#1c1c1c" stroke-width="2.5"/>
<line x1="658.75" y1="825.5" x2="658.75" y2="818.5" stroke="#1c1c1c" stroke-width="2.5"/>
<line x1="822.0" y1="825.5" x2="822.0" y2="818.5" stroke="#1c1c1c" stroke-width="2.5"/>
<line x1="169" y1="562.1" x2="176" y2="562.1" stroke="#1c1c1c" stroke-width="2.5"/>
<line x1="169" y1="649.9" x2="176" y2="649.9" stroke="#1c1c1c" stroke-width="2.5"/>
<line x1="169" y1="737.6999999999999" x2="176" y2="737.6999999999999" stroke="#1c1c1c" stroke-width="2.5"/>
<text x="157.75" y="878.90" font-family='"Liberation Serif", "Times New Roman", serif' font-weight="normal" font-size="45" fill="#1c1c1c">0</text>
<text x="304.68" y="878.90" font-family='"Liberation Serif", "Times New Roman", serif' font-weight="normal" font-size="45" fill="#1c1c1c">0.5</text>
<text x="483.63" y="878.90" font-family='"Liberation Serif", "Times New Roman", serif' font-weight="normal" font-size="45" fill="#1c1c1c">1</text>
<text x="631.56" y="878.90" font-family='"Liberation Serif", "Times New Roman", serif' font-weight="normal" font-size="45" fill="#1c1c1c">1.5</text>
<text x="810.98" y="878.90" font-family='"Liberation Serif", "Times New Roman", serif' font-weight="normal" font-size="45" fill="#1c1c1c">2</text>
<text x="135.57" y="578.00" font-family='"Liberation Serif", "Times New Roman", serif' font-weight="normal" font-size="45" fill="#1c1c1c">2</text>
<text x="134.79" y="666.30" font-family='"Liberation Serif", "Times New Roman", serif' font-weight="normal" font-size="45" fill="#1c1c1c">0</text>
<text x="120.61" y="753.80" font-family='"Liberation Serif", "Times New Roman", serif' font-weight="normal" font-size="45" fill="#1c1c1c">-2</text>
<text x="118.81" y="841.50" font-family='"Liberation Serif", "Times New Roman", serif' font-weight="normal" font-size="45" fill="#1c1c1c">-4</text>
<text x="402.02" y="932.30" font-family='"Liberation Serif", "Times New Roman", serif' font-weight="normal" font-size="45" fill="#1c1c1c">Time (ms)</text>
<text transform="translate(106.90,797.35) rotate(-90)" x="0" y="0" font-family='"Liberation Serif", "Times New Roman", serif' font-weight="normal" font-size="45" fill="#1c1c1c">Pressure (bar)</text>
<path d="M1113,86.0 L1113,392.8 L1768.5,392.8" fill="none" stroke="#1c1c1c" stroke-width="2.5" stroke-linecap="square"/>
<line x1="1184.8" y1="392.8" x2="1184.8" y2="385.8" stroke="#1c1c1c" stroke-width="2.5"/>
<line x1="1367.1" y1="392.8" x2="1367.1" y2="385.8" stroke="#1c1c1c" stroke-width="2.5"/>
<line x1="1549.4" y1="392.8" x2="1549.4" y2="385.8" stroke="#1c1c1c" stroke-width="2.5"/>
<line x1="1731.6999999999998" y1="392.8" x2="1731.6999999999998" y2="385.8" stroke="#1c1c1c" stroke-width="2.5"/>
<line x1="1113" y1="86.09000000000003" x2="1120" y2="86.09000000000003" stroke="#1c1c1c" stroke-width="2.5"/>
<line x1="1113" y1="182.16000000000003" x2="1120" y2="182.16000000000003" stroke="#1c1c1c" stroke-width="2.5"/>
<line x1="1113" y1="278.23" x2="1120" y2="278.23" stroke="#1c1c1c" stroke-width="2.5"/>
<line x1="1113" y1="374.3" x2="1120" y2="374.3" stroke="#1c1c1c" stroke-width="2.5"/>
<text x="1173.55" y="446.80" font-family='"Liberation Serif", "Times New Roman", serif' font-weight="normal" font-size="45" fill="#1c1c1c">0</text>
<text x="1355.46" y="446.80" font-family='"Liberation Serif", "Times New Roman", serif' font-weight="normal" font-size="45" fill="#1c1c1c">5</text>
<text x="1525.78" y="446.80" font-family='"Liberation Serif", "Times New Roman", serif' font-weight="normal" font-size="45" fill="#1c1c1c">10</text>
<text x="1708.13" y="446.80" font-family='"Liberation Serif", "Times New Roman", serif' font-weight="normal" font-size="45" fill="#1c1c1c">15</text>
<text x="1033.69" y="103.20" font-family='"Liberation Serif", "Times New Roman", serif' font-weight="normal" font-size="45" fill="#1c1c1c">300</text>
<text x="1033.69" y="199.00" font-family='"Liberation Serif", "Times New Roman", serif' font-weight="normal" font-size="45" fill="#1c1c1c">200</text>
<text x="1033.69" y="295.30" font-family='"Liberation Serif", "Times New Roman", serif' font-weight="normal" font-size="45" fill="#1c1c1c">100</text>
<text x="1078.69" y="390.80" font-family='"Liberation Serif", "Times New Roman", serif' font-weight="normal" font-size="45" fill="#1c1c1c">0</text>
<text x="1347.52" y="498.90" font-family='"Liberation Serif", "Times New Roman", serif' font-weight="normal" font-size="45" fill="#1c1c1c">Time (ms)</text>
<text transform="translate(1021.50,385.85) rotate(-90)" x="0" y="0" font-family='"Liberation Serif", "Times New Roman", serif' font-weight="normal" font-size="45" fill="#1c1c1c">Acceleration (g)</text>
<path d="M1113,518.5 L1113,826 L1768.5,826" fill="none" stroke="#1c1c1c" stroke-width="2.5" stroke-linecap="square"/>
<line x1="1184.8" y1="826" x2="1184.8" y2="819" stroke="#1c1c1c" stroke-width="2.5"/>
<line x1="1367.1" y1="826" x2="1367.1" y2="819" stroke="#1c1c1c" stroke-width="2.5"/>
<line x1="1549.4" y1="826" x2="1549.4" y2="819" stroke="#1c1c1c" stroke-width="2.5"/>
<line x1="1731.6999999999998" y1="826" x2="1731.6999999999998" y2="819" stroke="#1c1c1c" stroke-width="2.5"/>
<line x1="1113" y1="563.0" x2="1120" y2="563.0" stroke="#1c1c1c" stroke-width="2.5"/>
<line x1="1113" y1="650.65" x2="1120" y2="650.65" stroke="#1c1c1c" stroke-width="2.5"/>
<line x1="1113" y1="738.3" x2="1120" y2="738.3" stroke="#1c1c1c" stroke-width="2.5"/>
<text x="1173.55" y="879.20" font-family='"Liberation Serif", "Times New Roman", serif' font-weight="normal" font-size="45" fill="#1c1c1c">0</text>
<text x="1355.46" y="879.20" font-family='"Liberation Serif", "Times New Roman", serif' font-weight="normal" font-size="45" fill="#1c1c1c">5</text>
<text x="1525.78" y="879.20" font-family='"Liberation Serif", "Times New Roman", serif' font-weight="normal" font-size="45" fill="#1c1c1c">10</text>
<text x="1708.13" y="879.20" font-family='"Liberation Serif", "Times New Roman", serif' font-weight="normal" font-size="45" fill="#1c1c1c">15</text>
<text x="1078.69" y="579.20" font-family='"Liberation Serif", "Times New Roman", serif' font-weight="normal" font-size="45" fill="#1c1c1c">0</text>
<text x="1030.76" y="666.80" font-family='"Liberation Serif", "Times New Roman", serif' font-weight="normal" font-size="45" fill="#1c1c1c">-0.2</text>
<text x="1028.96" y="754.40" font-family='"Liberation Serif", "Times New Roman", serif' font-weight="normal" font-size="45" fill="#1c1c1c">-0.4</text>
<text x="1029.64" y="842.00" font-family='"Liberation Serif", "Times New Roman", serif' font-weight="normal" font-size="45" fill="#1c1c1c">-0.6</text>
<text x="1347.52" y="931.30" font-family='"Liberation Serif", "Times New Roman", serif' font-weight="normal" font-size="45" fill="#1c1c1c">Time (ms)</text>
<text transform="translate(1016.20,798.55) rotate(-90)" x="0" y="0" font-family='"Liberation Serif", "Times New Roman", serif' font-weight="normal" font-size="45" fill="#1c1c1c">Pressure (bar)</text>
<text x="0" y="0" transform="translate(105.43,1058.20) scale(0.9969,1)" font-family='"Liberation Serif", "Times New Roman", serif' font-weight="bold" font-size="55.5" fill="#3b5aa0">Blast 2</text>
<text x="0" y="0" transform="translate(664.24,1050.40) scale(0.9886,1)" font-family='"Liberation Serif", "Times New Roman", serif' font-weight="bold" font-size="55.5" fill="#3b5aa0">Blast 3</text>
<text x="0" y="0" transform="translate(1120.12,1050.80) scale(0.9878,1)" font-family='"Liberation Serif", "Times New Roman", serif' font-weight="bold" font-size="51" fill="#7030a0">Blast wave direction</text>
<line x1="933.6" y1="1036.2" x2="1110" y2="1036.2" stroke="#7030a0" stroke-width="6"/>
<line x1="1571" y1="1036.2" x2="1708" y2="1036.2" stroke="#7030a0" stroke-width="6"/>
<path d="M1704.5,1020.6 L1736.5,1036.2 L1704.5,1051.8 Z" fill="#7030a0"/>
<line x1="379" y1="1015" x2="379" y2="2076.5" stroke="#a9d08e" stroke-width="9.8" stroke-linecap="round"/>
<text x="0" y="0" transform="translate(63.31,2075.50) scale(0.9934,1)" font-family='"Liberation Serif", "Times New Roman", serif' font-weight="bold" font-size="56" fill="#000">0.303ms</text>
<text x="0" y="0" transform="translate(497.31,2075.50) scale(0.9934,1)" font-family='"Liberation Serif", "Times New Roman", serif' font-weight="bold" font-size="56" fill="#000">0.203ms</text>
<text x="842.70" y="2075.50" font-family='"Liberation Serif", "Times New Roman", serif' font-weight="bold" font-size="56" fill="#000">0.328ms</text>
<text x="0" y="0" transform="translate(1188.92,2075.50) scale(0.9924,1)" font-family='"Liberation Serif", "Times New Roman", serif' font-weight="bold" font-size="56" fill="#000">0.506ms</text><g filter="url(#blur1)"><rect x="1495.8" y="1077.6" width="265.70000000000005" height="190.80000000000018" fill="url(#inbg)"/><rect x="1495.8" y="1279.0" width="265.70000000000005" height="191.4000000000001" fill="url(#inbg)"/><rect x="1495.8" y="1480.0" width="265.70000000000005" height="191.20000000000005" fill="url(#inbg)"/><rect x="1495.8" y="1681.3" width="265.70000000000005" height="191.29999999999995" fill="url(#inbg)"/><rect x="1495.8" y="1883.2" width="265.70000000000005" height="190.29999999999995" fill="url(#inbg)"/></g><g filter="url(#blur3)"><ellipse cx="1525.5" cy="1115.6" rx="12" ry="13.5" fill="#a8a8a8" stroke="#404040" stroke-width="7"/><ellipse cx="1632.8" cy="1215.8" rx="19" ry="28" fill="#acacac" stroke="#333333" stroke-width="11"/><ellipse cx="1735" cy="1157" rx="8" ry="16" fill="#8a8a8a" stroke="#262626" stroke-width="6"/><path d="M1548,1306 L1564,1316 L1548,1324 Z" fill="#555"/><ellipse cx="1540.7" cy="1315" rx="8" ry="10" fill="#8a8a8a" stroke="#404040" stroke-width="7"/><ellipse cx="1638.8" cy="1414" rx="12" ry="19" fill="#acacac" stroke="#3a3a3a" stroke-width="9"/><path d="M1742,1330 Q1722,1352 1742,1378" fill="none" stroke="#9a9a9a" stroke-width="3"/><path d="M1554,1503 L1582,1512 L1554,1520 Z" fill="#666" opacity="0.8"/><ellipse cx="1547" cy="1512.4" rx="8.5" ry="12.5" fill="#8c8c8c" stroke="#404040" stroke-width="7"/><ellipse cx="1657.7" cy="1616" rx="12" ry="18" fill="#5a5a5a"/><ellipse cx="1738" cy="1553" rx="8" ry="13" fill="#5a5a5a" stroke="#1a1a1a" stroke-width="7"/><ellipse cx="1553" cy="1717" rx="3.5" ry="8" fill="#7a7a7a"/><path d="M1664,1804 L1698,1820 L1664,1832 Z" fill="#3a3a3a"/><ellipse cx="1653.7" cy="1817.5" rx="12" ry="19" fill="#a8a8a8" stroke="#333333" stroke-width="10"/><ellipse cx="1740" cy="1760" rx="6" ry="12" fill="#2e2e2e"/><path d="M1672,2004 L1702,2022 L1672,2034 Z" fill="#3a3a3a"/><ellipse cx="1662" cy="2019" rx="12.5" ry="20" fill="#a8a8a8" stroke="#333333" stroke-width="10"/></g><text x="1605.96" y="1125.00" font-family='"Liberation Serif", "Times New Roman", serif' font-weight="bold" font-size="56" fill="#ffff38">329µs</text><text x="1605.96" y="1326.70" font-family='"Liberation Serif", "Times New Roman", serif' font-weight="bold" font-size="56" fill="#ffff38">405µs</text><text x="1605.96" y="1527.60" font-family='"Liberation Serif", "Times New Roman", serif' font-weight="bold" font-size="56" fill="#ffff38">442µs</text><text x="1605.96" y="1728.00" font-family='"Liberation Serif", "Times New Roman", serif' font-weight="bold" font-size="56" fill="#ffff38">507µs</text><text x="1605.96" y="1928.40" font-family='"Liberation Serif", "Times New Roman", serif' font-weight="bold" font-size="56" fill="#ffff38">582µs</text><rect x="1492.3" y="1073.6" width="272.4" height="1003.3" fill="none" stroke="#dc0000" stroke-width="4.6" stroke-dasharray="14 5.5"/><rect x="1240" y="1367.6" width="134.9" height="98" fill="none" stroke="#dc0000" stroke-width="4.2" stroke-dasharray="12 6"/><line x1="1374.9" y1="1367.6" x2="1492.6" y2="1074.7" stroke="#dc0000" stroke-width="4.4" stroke-dasharray="13 6"/><line x1="1374.9" y1="1465.6" x2="1492.3" y2="2008" stroke="#dc0000" stroke-width="4.4" stroke-dasharray="13 6"/><path d="M1260.2,1529.7 L1290.1,1490.5 L1294.9,1494.2 L1298.5,1474.8 L1280.8,1483.4 L1285.6,1487.1 L1255.8,1526.3 Z" fill="#dc0000"/><path d="M1259.2,1699.7 L1288.9,1732.8 L1284.3,1736.9 L1302.7,1744.1 L1297.6,1725.0 L1293.1,1729.1 L1263.4,1695.9 Z" fill="#dc0000"/><path d="M1524.8,1589.9 L1541.8,1559.7 L1547.1,1562.7 L1548.0,1543.0 L1531.6,1554.0 L1536.9,1557.0 L1520.0,1587.1 Z" fill="#dc0000"/><path d="M1581.0,1866.4 L1612.7,1849.8 L1615.5,1855.2 L1627.0,1839.2 L1607.3,1839.5 L1610.1,1844.9 L1578.4,1861.4 Z" fill="#dc0000"/></svg></body></html>
